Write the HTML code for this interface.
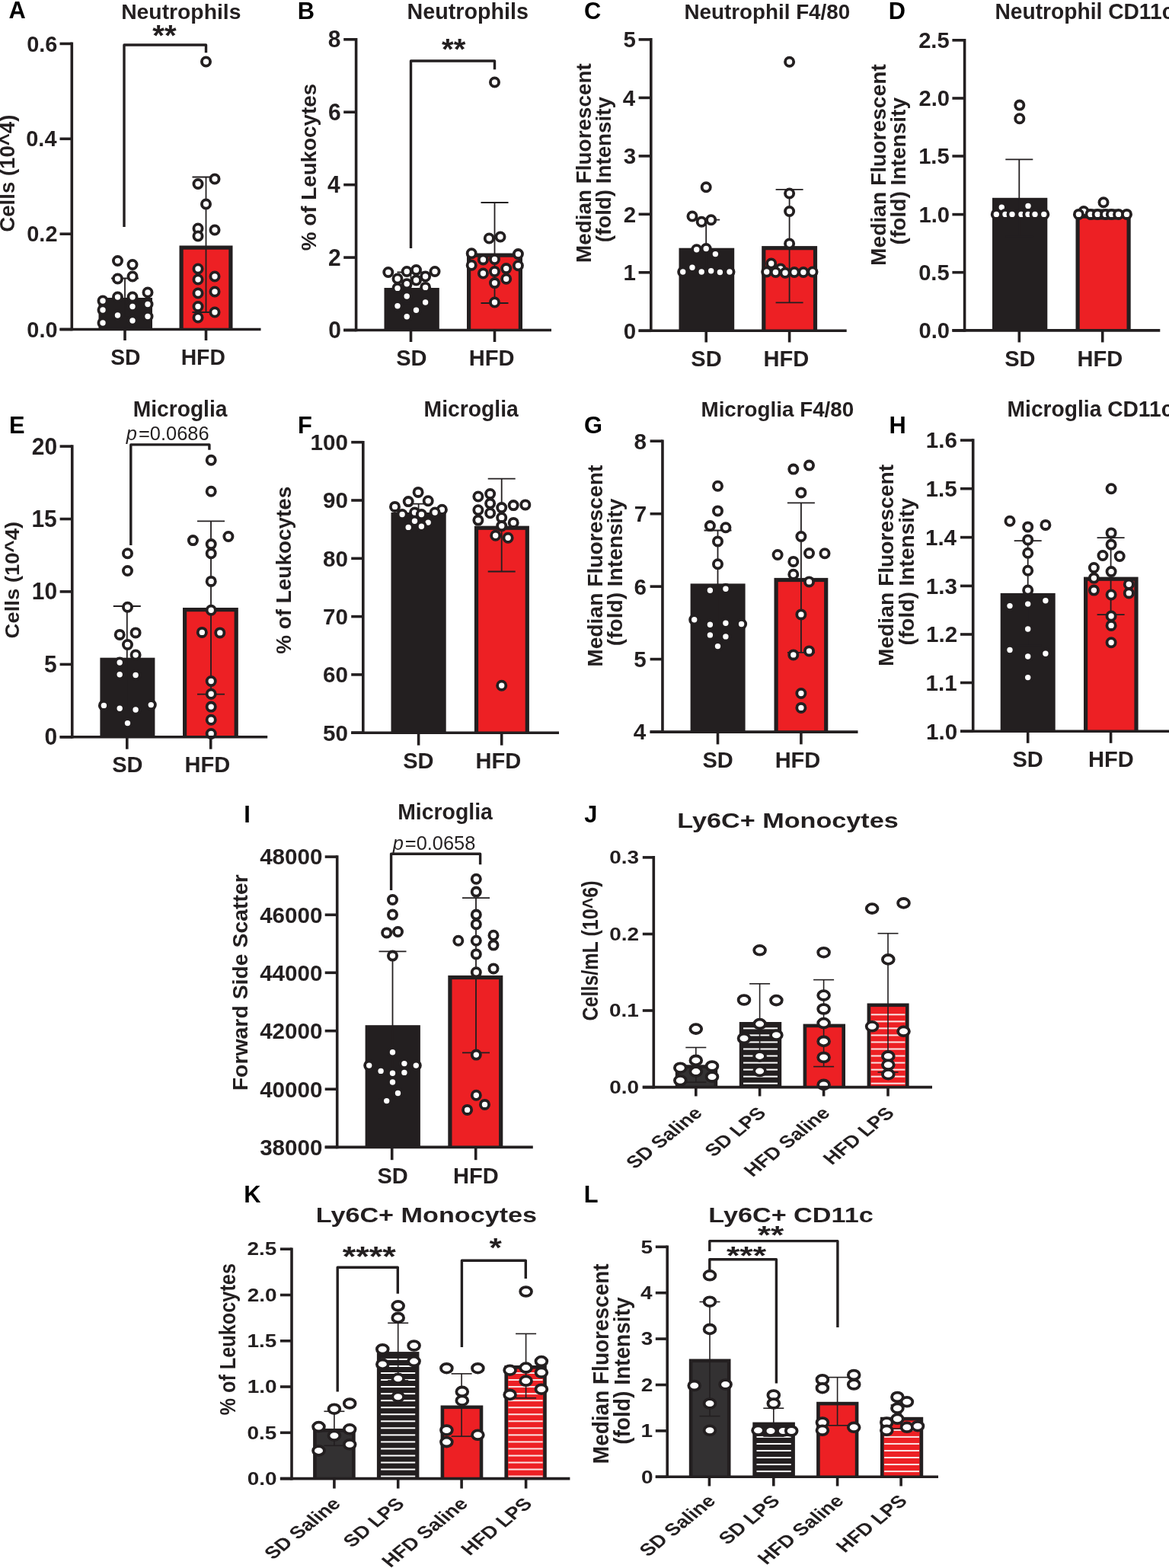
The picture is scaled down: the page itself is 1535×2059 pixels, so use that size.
<!DOCTYPE html>
<html><head><meta charset="utf-8"><title>Figure</title>
<style>html,body{margin:0;padding:0;background:#fff;} svg{display:block;filter:blur(0.45px);}</style>
</head><body>
<svg width="1535" height="2059" viewBox="0 0 1535 2059">
<rect width="1535" height="2059" fill="#fff"/>
<g font-family="'Liberation Sans', sans-serif" fill="#231f20">
<rect x="129.50" y="391.00" width="70.50" height="41.50" fill="#231f20"/>
<rect x="235.50" y="322.50" width="70.00" height="110.00" fill="#231f20"/>
<rect x="240.70" y="327.70" width="59.60" height="104.80" fill="#ed2024"/>
<line x1="164.00" y1="365.50" x2="164.00" y2="416.50" stroke="#231f20" stroke-width="1.8" stroke-linecap="butt"/>
<line x1="146.00" y1="365.50" x2="182.00" y2="365.50" stroke="#231f20" stroke-width="1.8" stroke-linecap="butt"/>
<line x1="146.00" y1="416.50" x2="182.00" y2="416.50" stroke="#231f20" stroke-width="1.8" stroke-linecap="butt"/>
<line x1="270.50" y1="232.50" x2="270.50" y2="410.00" stroke="#231f20" stroke-width="1.8" stroke-linecap="butt"/>
<line x1="252.50" y1="232.50" x2="288.50" y2="232.50" stroke="#231f20" stroke-width="1.8" stroke-linecap="butt"/>
<line x1="252.50" y1="410.00" x2="288.50" y2="410.00" stroke="#231f20" stroke-width="1.8" stroke-linecap="butt"/>
<circle cx="154.50" cy="342.50" r="5.6" fill="#fff" stroke="#231f20" stroke-width="3.8"/>
<circle cx="174.00" cy="347.50" r="5.6" fill="#fff" stroke="#231f20" stroke-width="3.8"/>
<circle cx="154.50" cy="366.00" r="5.6" fill="#fff" stroke="#231f20" stroke-width="3.8"/>
<circle cx="174.00" cy="363.00" r="5.6" fill="#fff" stroke="#231f20" stroke-width="3.8"/>
<circle cx="194.00" cy="384.00" r="5.6" fill="#fff" stroke="#231f20" stroke-width="3.8"/>
<circle cx="135.00" cy="395.00" r="5.6" fill="#fff" stroke="#231f20" stroke-width="3.8"/>
<circle cx="154.50" cy="390.00" r="5.6" fill="#fff" stroke="#231f20" stroke-width="3.8"/>
<circle cx="174.00" cy="390.00" r="5.6" fill="#fff" stroke="#231f20" stroke-width="3.8"/>
<circle cx="135.00" cy="407.00" r="5.6" fill="#fff" stroke="#231f20" stroke-width="3.8"/>
<circle cx="174.00" cy="402.50" r="5.6" fill="#fff" stroke="#231f20" stroke-width="3.8"/>
<circle cx="194.00" cy="399.50" r="5.6" fill="#fff" stroke="#231f20" stroke-width="3.8"/>
<circle cx="154.50" cy="414.00" r="5.6" fill="#fff" stroke="#231f20" stroke-width="3.8"/>
<circle cx="194.00" cy="415.50" r="5.6" fill="#fff" stroke="#231f20" stroke-width="3.8"/>
<circle cx="174.00" cy="421.00" r="5.6" fill="#fff" stroke="#231f20" stroke-width="3.8"/>
<circle cx="135.00" cy="424.00" r="5.6" fill="#fff" stroke="#231f20" stroke-width="3.8"/>
<circle cx="270.50" cy="81.00" r="5.6" fill="#fff" stroke="#231f20" stroke-width="3.8"/>
<circle cx="282.00" cy="235.00" r="5.6" fill="#fff" stroke="#231f20" stroke-width="3.8"/>
<circle cx="260.00" cy="241.50" r="5.6" fill="#fff" stroke="#231f20" stroke-width="3.8"/>
<circle cx="270.50" cy="268.00" r="5.6" fill="#fff" stroke="#231f20" stroke-width="3.8"/>
<circle cx="260.00" cy="300.00" r="5.6" fill="#fff" stroke="#231f20" stroke-width="3.8"/>
<circle cx="282.00" cy="302.00" r="5.6" fill="#fff" stroke="#231f20" stroke-width="3.8"/>
<circle cx="260.00" cy="310.00" r="5.6" fill="#fff" stroke="#231f20" stroke-width="3.8"/>
<circle cx="260.00" cy="353.00" r="5.6" fill="#fff" stroke="#231f20" stroke-width="3.8"/>
<circle cx="260.00" cy="367.00" r="5.6" fill="#fff" stroke="#231f20" stroke-width="3.8"/>
<circle cx="282.00" cy="363.00" r="5.6" fill="#fff" stroke="#231f20" stroke-width="3.8"/>
<circle cx="260.00" cy="385.00" r="5.6" fill="#fff" stroke="#231f20" stroke-width="3.8"/>
<circle cx="282.00" cy="383.00" r="5.6" fill="#fff" stroke="#231f20" stroke-width="3.8"/>
<circle cx="260.00" cy="402.50" r="5.6" fill="#fff" stroke="#231f20" stroke-width="3.8"/>
<circle cx="282.00" cy="410.00" r="5.6" fill="#fff" stroke="#231f20" stroke-width="3.8"/>
<circle cx="260.00" cy="417.00" r="5.6" fill="#fff" stroke="#231f20" stroke-width="3.8"/>
<line x1="94.30" y1="55.60" x2="94.30" y2="434.30" stroke="#231f20" stroke-width="3.6" stroke-linecap="butt"/>
<line x1="78.50" y1="57.40" x2="94.30" y2="57.40" stroke="#231f20" stroke-width="3.6" stroke-linecap="butt"/>
<line x1="78.50" y1="182.30" x2="94.30" y2="182.30" stroke="#231f20" stroke-width="3.6" stroke-linecap="butt"/>
<line x1="78.50" y1="307.20" x2="94.30" y2="307.20" stroke="#231f20" stroke-width="3.6" stroke-linecap="butt"/>
<line x1="78.50" y1="432.50" x2="94.30" y2="432.50" stroke="#231f20" stroke-width="3.6" stroke-linecap="butt"/>
<line x1="78.50" y1="432.50" x2="342.50" y2="432.50" stroke="#231f20" stroke-width="3.6" stroke-linecap="butt"/>
<line x1="164.00" y1="432.50" x2="164.00" y2="447.00" stroke="#231f20" stroke-width="3.6" stroke-linecap="butt"/>
<line x1="270.50" y1="432.50" x2="270.50" y2="447.00" stroke="#231f20" stroke-width="3.6" stroke-linecap="butt"/>
<polyline points="163.00,298.00 163.00,59.00 270.50,59.00 270.50,69.30" fill="none" stroke="#231f20" stroke-width="3.4" stroke-linejoin="round"/>
<text transform="translate(75.34,67.54) scale(1.000,1.020)" font-size="28.9" font-weight="bold" text-anchor="end"  >0.6</text>
<text transform="translate(74.45,192.44) scale(1.000,1.020)" font-size="28.9" font-weight="bold" text-anchor="end"  >0.4</text>
<text transform="translate(75.46,317.34) scale(1.000,1.020)" font-size="28.9" font-weight="bold" text-anchor="end"  >0.2</text>
<text transform="translate(75.49,442.64) scale(1.000,1.020)" font-size="28.9" font-weight="bold" text-anchor="end"  >0.0</text>
<rect x="504.50" y="378.00" width="72.30" height="55.50" fill="#231f20"/>
<rect x="613.00" y="332.50" width="73.00" height="101.00" fill="#231f20"/>
<rect x="618.20" y="337.70" width="62.60" height="95.80" fill="#ed2024"/>
<line x1="539.50" y1="357.50" x2="539.50" y2="398.50" stroke="#231f20" stroke-width="1.8" stroke-linecap="butt"/>
<line x1="521.50" y1="357.50" x2="557.50" y2="357.50" stroke="#231f20" stroke-width="1.8" stroke-linecap="butt"/>
<line x1="521.50" y1="398.50" x2="557.50" y2="398.50" stroke="#231f20" stroke-width="1.8" stroke-linecap="butt"/>
<line x1="649.50" y1="266.00" x2="649.50" y2="398.00" stroke="#231f20" stroke-width="1.8" stroke-linecap="butt"/>
<line x1="631.50" y1="266.00" x2="667.50" y2="266.00" stroke="#231f20" stroke-width="1.8" stroke-linecap="butt"/>
<line x1="631.50" y1="398.00" x2="667.50" y2="398.00" stroke="#231f20" stroke-width="1.8" stroke-linecap="butt"/>
<circle cx="509.80" cy="357.50" r="5.6" fill="#fff" stroke="#231f20" stroke-width="3.8"/>
<circle cx="522.00" cy="366.00" r="5.6" fill="#fff" stroke="#231f20" stroke-width="3.8"/>
<circle cx="534.20" cy="356.50" r="5.6" fill="#fff" stroke="#231f20" stroke-width="3.8"/>
<circle cx="546.50" cy="354.50" r="5.6" fill="#fff" stroke="#231f20" stroke-width="3.8"/>
<circle cx="558.60" cy="363.00" r="5.6" fill="#fff" stroke="#231f20" stroke-width="3.8"/>
<circle cx="571.00" cy="356.50" r="5.6" fill="#fff" stroke="#231f20" stroke-width="3.8"/>
<circle cx="546.50" cy="368.00" r="5.6" fill="#fff" stroke="#231f20" stroke-width="3.8"/>
<circle cx="534.20" cy="372.70" r="5.6" fill="#fff" stroke="#231f20" stroke-width="3.8"/>
<circle cx="522.00" cy="378.40" r="5.6" fill="#fff" stroke="#231f20" stroke-width="3.8"/>
<circle cx="558.60" cy="377.40" r="5.6" fill="#fff" stroke="#231f20" stroke-width="3.8"/>
<circle cx="534.20" cy="389.00" r="5.6" fill="#fff" stroke="#231f20" stroke-width="3.8"/>
<circle cx="522.00" cy="401.80" r="5.6" fill="#fff" stroke="#231f20" stroke-width="3.8"/>
<circle cx="558.60" cy="397.00" r="5.6" fill="#fff" stroke="#231f20" stroke-width="3.8"/>
<circle cx="546.50" cy="407.30" r="5.6" fill="#fff" stroke="#231f20" stroke-width="3.8"/>
<circle cx="534.20" cy="415.70" r="5.6" fill="#fff" stroke="#231f20" stroke-width="3.8"/>
<circle cx="649.50" cy="108.00" r="5.6" fill="#fff" stroke="#231f20" stroke-width="3.8"/>
<circle cx="642.30" cy="313.00" r="5.6" fill="#fff" stroke="#231f20" stroke-width="3.8"/>
<circle cx="657.00" cy="311.00" r="5.6" fill="#fff" stroke="#231f20" stroke-width="3.8"/>
<circle cx="619.20" cy="332.70" r="5.6" fill="#fff" stroke="#231f20" stroke-width="3.8"/>
<circle cx="680.40" cy="333.60" r="5.6" fill="#fff" stroke="#231f20" stroke-width="3.8"/>
<circle cx="634.40" cy="340.90" r="5.6" fill="#fff" stroke="#231f20" stroke-width="3.8"/>
<circle cx="649.50" cy="340.50" r="5.6" fill="#fff" stroke="#231f20" stroke-width="3.8"/>
<circle cx="619.20" cy="348.30" r="5.6" fill="#fff" stroke="#231f20" stroke-width="3.8"/>
<circle cx="680.40" cy="348.70" r="5.6" fill="#fff" stroke="#231f20" stroke-width="3.8"/>
<circle cx="664.70" cy="352.60" r="5.6" fill="#fff" stroke="#231f20" stroke-width="3.8"/>
<circle cx="649.50" cy="356.50" r="5.6" fill="#fff" stroke="#231f20" stroke-width="3.8"/>
<circle cx="634.40" cy="359.00" r="5.6" fill="#fff" stroke="#231f20" stroke-width="3.8"/>
<circle cx="664.70" cy="366.30" r="5.6" fill="#fff" stroke="#231f20" stroke-width="3.8"/>
<circle cx="649.50" cy="371.60" r="5.6" fill="#fff" stroke="#231f20" stroke-width="3.8"/>
<circle cx="649.50" cy="397.00" r="5.6" fill="#fff" stroke="#231f20" stroke-width="3.8"/>
<line x1="467.60" y1="50.00" x2="467.60" y2="435.30" stroke="#231f20" stroke-width="3.6" stroke-linecap="butt"/>
<line x1="451.20" y1="51.80" x2="467.60" y2="51.80" stroke="#231f20" stroke-width="3.6" stroke-linecap="butt"/>
<line x1="451.20" y1="147.20" x2="467.60" y2="147.20" stroke="#231f20" stroke-width="3.6" stroke-linecap="butt"/>
<line x1="451.20" y1="242.65" x2="467.60" y2="242.65" stroke="#231f20" stroke-width="3.6" stroke-linecap="butt"/>
<line x1="451.20" y1="338.10" x2="467.60" y2="338.10" stroke="#231f20" stroke-width="3.6" stroke-linecap="butt"/>
<line x1="451.20" y1="433.50" x2="467.60" y2="433.50" stroke="#231f20" stroke-width="3.6" stroke-linecap="butt"/>
<line x1="451.20" y1="433.50" x2="724.00" y2="433.50" stroke="#231f20" stroke-width="3.6" stroke-linecap="butt"/>
<line x1="539.50" y1="433.50" x2="539.50" y2="449.00" stroke="#231f20" stroke-width="3.6" stroke-linecap="butt"/>
<line x1="649.50" y1="433.50" x2="649.50" y2="449.00" stroke="#231f20" stroke-width="3.6" stroke-linecap="butt"/>
<polyline points="539.50,326.00 539.50,80.00 649.50,80.00 649.50,91.30" fill="none" stroke="#231f20" stroke-width="3.4" stroke-linejoin="round"/>
<text transform="translate(447.53,62.33) scale(1.000,1.020)" font-size="30" font-weight="bold" text-anchor="end"  >8</text>
<text transform="translate(447.68,157.73) scale(1.000,1.020)" font-size="30" font-weight="bold" text-anchor="end"  >6</text>
<text transform="translate(446.75,253.18) scale(1.000,1.020)" font-size="30" font-weight="bold" text-anchor="end"  >4</text>
<text transform="translate(447.80,348.63) scale(1.000,1.020)" font-size="30" font-weight="bold" text-anchor="end"  >2</text>
<text transform="translate(447.83,444.03) scale(1.000,1.020)" font-size="30" font-weight="bold" text-anchor="end"  >0</text>
<rect x="891.50" y="325.70" width="72.70" height="108.60" fill="#231f20"/>
<rect x="1000.20" y="323.10" width="72.90" height="111.20" fill="#231f20"/>
<rect x="1005.40" y="328.30" width="62.50" height="106.00" fill="#ed2024"/>
<line x1="927.20" y1="288.70" x2="927.20" y2="362.70" stroke="#231f20" stroke-width="1.8" stroke-linecap="butt"/>
<line x1="909.20" y1="288.70" x2="945.20" y2="288.70" stroke="#231f20" stroke-width="1.8" stroke-linecap="butt"/>
<line x1="909.20" y1="362.70" x2="945.20" y2="362.70" stroke="#231f20" stroke-width="1.8" stroke-linecap="butt"/>
<line x1="1036.60" y1="248.90" x2="1036.60" y2="397.40" stroke="#231f20" stroke-width="1.8" stroke-linecap="butt"/>
<line x1="1018.60" y1="248.90" x2="1054.60" y2="248.90" stroke="#231f20" stroke-width="1.8" stroke-linecap="butt"/>
<line x1="1018.60" y1="397.40" x2="1054.60" y2="397.40" stroke="#231f20" stroke-width="1.8" stroke-linecap="butt"/>
<circle cx="927.20" cy="245.70" r="5.6" fill="#fff" stroke="#231f20" stroke-width="3.8"/>
<circle cx="909.00" cy="284.00" r="5.6" fill="#fff" stroke="#231f20" stroke-width="3.8"/>
<circle cx="921.20" cy="291.30" r="5.6" fill="#fff" stroke="#231f20" stroke-width="3.8"/>
<circle cx="933.70" cy="288.70" r="5.6" fill="#fff" stroke="#231f20" stroke-width="3.8"/>
<circle cx="914.70" cy="327.80" r="5.6" fill="#fff" stroke="#231f20" stroke-width="3.8"/>
<circle cx="927.20" cy="326.50" r="5.6" fill="#fff" stroke="#231f20" stroke-width="3.8"/>
<circle cx="939.40" cy="333.60" r="5.6" fill="#fff" stroke="#231f20" stroke-width="3.8"/>
<circle cx="909.00" cy="351.30" r="5.6" fill="#fff" stroke="#231f20" stroke-width="3.8"/>
<circle cx="896.70" cy="357.00" r="5.6" fill="#fff" stroke="#231f20" stroke-width="3.8"/>
<circle cx="921.20" cy="357.00" r="5.6" fill="#fff" stroke="#231f20" stroke-width="3.8"/>
<circle cx="933.70" cy="355.70" r="5.6" fill="#fff" stroke="#231f20" stroke-width="3.8"/>
<circle cx="945.40" cy="357.50" r="5.6" fill="#fff" stroke="#231f20" stroke-width="3.8"/>
<circle cx="958.00" cy="357.00" r="5.6" fill="#fff" stroke="#231f20" stroke-width="3.8"/>
<circle cx="1036.60" cy="81.30" r="5.6" fill="#fff" stroke="#231f20" stroke-width="3.8"/>
<circle cx="1036.60" cy="254.00" r="5.6" fill="#fff" stroke="#231f20" stroke-width="3.8"/>
<circle cx="1036.60" cy="277.50" r="5.6" fill="#fff" stroke="#231f20" stroke-width="3.8"/>
<circle cx="1036.60" cy="320.00" r="5.6" fill="#fff" stroke="#231f20" stroke-width="3.8"/>
<circle cx="1012.70" cy="346.00" r="5.6" fill="#fff" stroke="#231f20" stroke-width="3.8"/>
<circle cx="1025.00" cy="353.00" r="5.6" fill="#fff" stroke="#231f20" stroke-width="3.8"/>
<circle cx="1006.70" cy="357.00" r="5.6" fill="#fff" stroke="#231f20" stroke-width="3.8"/>
<circle cx="1018.40" cy="357.50" r="5.6" fill="#fff" stroke="#231f20" stroke-width="3.8"/>
<circle cx="1031.00" cy="358.30" r="5.6" fill="#fff" stroke="#231f20" stroke-width="3.8"/>
<circle cx="1043.00" cy="357.50" r="5.6" fill="#fff" stroke="#231f20" stroke-width="3.8"/>
<circle cx="1054.90" cy="357.50" r="5.6" fill="#fff" stroke="#231f20" stroke-width="3.8"/>
<circle cx="1067.00" cy="357.00" r="5.6" fill="#fff" stroke="#231f20" stroke-width="3.8"/>
<line x1="854.80" y1="50.10" x2="854.80" y2="436.10" stroke="#231f20" stroke-width="3.6" stroke-linecap="butt"/>
<line x1="838.60" y1="51.90" x2="854.80" y2="51.90" stroke="#231f20" stroke-width="3.6" stroke-linecap="butt"/>
<line x1="838.60" y1="128.40" x2="854.80" y2="128.40" stroke="#231f20" stroke-width="3.6" stroke-linecap="butt"/>
<line x1="838.60" y1="204.90" x2="854.80" y2="204.90" stroke="#231f20" stroke-width="3.6" stroke-linecap="butt"/>
<line x1="838.60" y1="281.30" x2="854.80" y2="281.30" stroke="#231f20" stroke-width="3.6" stroke-linecap="butt"/>
<line x1="838.60" y1="357.80" x2="854.80" y2="357.80" stroke="#231f20" stroke-width="3.6" stroke-linecap="butt"/>
<line x1="838.60" y1="434.30" x2="854.80" y2="434.30" stroke="#231f20" stroke-width="3.6" stroke-linecap="butt"/>
<line x1="838.60" y1="434.30" x2="1111.70" y2="434.30" stroke="#231f20" stroke-width="3.6" stroke-linecap="butt"/>
<line x1="927.20" y1="434.30" x2="927.20" y2="449.50" stroke="#231f20" stroke-width="3.6" stroke-linecap="butt"/>
<line x1="1036.60" y1="434.30" x2="1036.60" y2="449.50" stroke="#231f20" stroke-width="3.6" stroke-linecap="butt"/>
<text transform="translate(834.83,62.25) scale(1.000,1.020)" font-size="29.5" font-weight="bold" text-anchor="end"  >5</text>
<text transform="translate(834.15,138.75) scale(1.000,1.020)" font-size="29.5" font-weight="bold" text-anchor="end"  >4</text>
<text transform="translate(835.07,215.25) scale(1.000,1.020)" font-size="29.5" font-weight="bold" text-anchor="end"  >3</text>
<text transform="translate(835.18,291.65) scale(1.000,1.020)" font-size="29.5" font-weight="bold" text-anchor="end"  >2</text>
<text transform="translate(834.83,368.15) scale(1.000,1.020)" font-size="29.5" font-weight="bold" text-anchor="end"  >1</text>
<text transform="translate(835.21,444.65) scale(1.000,1.020)" font-size="29.5" font-weight="bold" text-anchor="end"  >0</text>
<rect x="1303.00" y="259.80" width="72.30" height="174.10" fill="#231f20"/>
<rect x="1412.50" y="281.50" width="72.20" height="152.40" fill="#231f20"/>
<rect x="1417.70" y="286.70" width="61.80" height="147.20" fill="#ed2024"/>
<line x1="1338.30" y1="209.30" x2="1338.30" y2="310.30" stroke="#231f20" stroke-width="1.8" stroke-linecap="butt"/>
<line x1="1320.30" y1="209.30" x2="1356.30" y2="209.30" stroke="#231f20" stroke-width="1.8" stroke-linecap="butt"/>
<line x1="1320.30" y1="310.30" x2="1356.30" y2="310.30" stroke="#231f20" stroke-width="1.8" stroke-linecap="butt"/>
<line x1="1447.70" y1="275.40" x2="1447.70" y2="287.60" stroke="#231f20" stroke-width="1.8" stroke-linecap="butt"/>
<line x1="1429.70" y1="275.40" x2="1465.70" y2="275.40" stroke="#231f20" stroke-width="1.8" stroke-linecap="butt"/>
<line x1="1429.70" y1="287.60" x2="1465.70" y2="287.60" stroke="#231f20" stroke-width="1.8" stroke-linecap="butt"/>
<circle cx="1338.80" cy="138.10" r="5.6" fill="#fff" stroke="#231f20" stroke-width="3.8"/>
<circle cx="1338.80" cy="155.80" r="5.6" fill="#fff" stroke="#231f20" stroke-width="3.8"/>
<circle cx="1315.30" cy="272.30" r="5.6" fill="#fff" stroke="#231f20" stroke-width="3.8"/>
<circle cx="1350.00" cy="270.50" r="5.6" fill="#fff" stroke="#231f20" stroke-width="3.8"/>
<circle cx="1308.30" cy="281.40" r="5.6" fill="#fff" stroke="#231f20" stroke-width="3.8"/>
<circle cx="1320.00" cy="281.40" r="5.6" fill="#fff" stroke="#231f20" stroke-width="3.8"/>
<circle cx="1329.00" cy="281.40" r="5.6" fill="#fff" stroke="#231f20" stroke-width="3.8"/>
<circle cx="1341.00" cy="281.40" r="5.6" fill="#fff" stroke="#231f20" stroke-width="3.8"/>
<circle cx="1350.00" cy="281.40" r="5.6" fill="#fff" stroke="#231f20" stroke-width="3.8"/>
<circle cx="1359.00" cy="281.40" r="5.6" fill="#fff" stroke="#231f20" stroke-width="3.8"/>
<circle cx="1370.80" cy="281.40" r="5.6" fill="#fff" stroke="#231f20" stroke-width="3.8"/>
<circle cx="1449.00" cy="265.80" r="5.6" fill="#fff" stroke="#231f20" stroke-width="3.8"/>
<circle cx="1423.00" cy="277.50" r="5.6" fill="#fff" stroke="#231f20" stroke-width="3.8"/>
<circle cx="1416.40" cy="281.40" r="5.6" fill="#fff" stroke="#231f20" stroke-width="3.8"/>
<circle cx="1432.00" cy="281.40" r="5.6" fill="#fff" stroke="#231f20" stroke-width="3.8"/>
<circle cx="1441.20" cy="281.40" r="5.6" fill="#fff" stroke="#231f20" stroke-width="3.8"/>
<circle cx="1451.60" cy="281.40" r="5.6" fill="#fff" stroke="#231f20" stroke-width="3.8"/>
<circle cx="1459.40" cy="281.40" r="5.6" fill="#fff" stroke="#231f20" stroke-width="3.8"/>
<circle cx="1468.60" cy="281.40" r="5.6" fill="#fff" stroke="#231f20" stroke-width="3.8"/>
<circle cx="1479.50" cy="281.40" r="5.6" fill="#fff" stroke="#231f20" stroke-width="3.8"/>
<line x1="1266.60" y1="51.00" x2="1266.60" y2="435.70" stroke="#231f20" stroke-width="3.6" stroke-linecap="butt"/>
<line x1="1250.40" y1="52.80" x2="1266.60" y2="52.80" stroke="#231f20" stroke-width="3.6" stroke-linecap="butt"/>
<line x1="1250.40" y1="129.00" x2="1266.60" y2="129.00" stroke="#231f20" stroke-width="3.6" stroke-linecap="butt"/>
<line x1="1250.40" y1="205.00" x2="1266.60" y2="205.00" stroke="#231f20" stroke-width="3.6" stroke-linecap="butt"/>
<line x1="1250.40" y1="281.60" x2="1266.60" y2="281.60" stroke="#231f20" stroke-width="3.6" stroke-linecap="butt"/>
<line x1="1250.40" y1="357.70" x2="1266.60" y2="357.70" stroke="#231f20" stroke-width="3.6" stroke-linecap="butt"/>
<line x1="1250.40" y1="433.90" x2="1266.60" y2="433.90" stroke="#231f20" stroke-width="3.6" stroke-linecap="butt"/>
<line x1="1250.40" y1="433.90" x2="1523.30" y2="433.90" stroke="#231f20" stroke-width="3.6" stroke-linecap="butt"/>
<line x1="1338.30" y1="433.90" x2="1338.30" y2="449.50" stroke="#231f20" stroke-width="3.6" stroke-linecap="butt"/>
<line x1="1447.70" y1="433.90" x2="1447.70" y2="449.50" stroke="#231f20" stroke-width="3.6" stroke-linecap="butt"/>
<text transform="translate(1246.72,63.05) scale(1.000,1.020)" font-size="29.2" font-weight="bold" text-anchor="end"  >2.5</text>
<text transform="translate(1247.10,139.25) scale(1.000,1.020)" font-size="29.2" font-weight="bold" text-anchor="end"  >2.0</text>
<text transform="translate(1246.72,215.25) scale(1.000,1.020)" font-size="29.2" font-weight="bold" text-anchor="end"  >1.5</text>
<text transform="translate(1247.10,291.85) scale(1.000,1.020)" font-size="29.2" font-weight="bold" text-anchor="end"  >1.0</text>
<text transform="translate(1246.72,367.95) scale(1.000,1.020)" font-size="29.2" font-weight="bold" text-anchor="end"  >0.5</text>
<text transform="translate(1247.10,444.15) scale(1.000,1.020)" font-size="29.2" font-weight="bold" text-anchor="end"  >0.0</text>
<rect x="131.40" y="863.70" width="72.00" height="104.10" fill="#231f20"/>
<rect x="240.00" y="798.00" width="72.80" height="169.80" fill="#231f20"/>
<rect x="245.20" y="803.20" width="62.40" height="164.60" fill="#ed2024"/>
<line x1="166.80" y1="796.00" x2="166.80" y2="931.40" stroke="#231f20" stroke-width="1.8" stroke-linecap="butt"/>
<line x1="148.80" y1="796.00" x2="184.80" y2="796.00" stroke="#231f20" stroke-width="1.8" stroke-linecap="butt"/>
<line x1="148.80" y1="931.40" x2="184.80" y2="931.40" stroke="#231f20" stroke-width="1.8" stroke-linecap="butt"/>
<line x1="277.00" y1="684.30" x2="277.00" y2="911.70" stroke="#231f20" stroke-width="1.8" stroke-linecap="butt"/>
<line x1="259.00" y1="684.30" x2="295.00" y2="684.30" stroke="#231f20" stroke-width="1.8" stroke-linecap="butt"/>
<line x1="259.00" y1="911.70" x2="295.00" y2="911.70" stroke="#231f20" stroke-width="1.8" stroke-linecap="butt"/>
<circle cx="167.50" cy="726.80" r="5.6" fill="#fff" stroke="#231f20" stroke-width="3.8"/>
<circle cx="167.50" cy="749.50" r="5.6" fill="#fff" stroke="#231f20" stroke-width="3.8"/>
<circle cx="167.50" cy="797.30" r="5.6" fill="#fff" stroke="#231f20" stroke-width="3.8"/>
<circle cx="157.20" cy="833.40" r="5.6" fill="#fff" stroke="#231f20" stroke-width="3.8"/>
<circle cx="178.10" cy="830.90" r="5.6" fill="#fff" stroke="#231f20" stroke-width="3.8"/>
<circle cx="167.50" cy="846.50" r="5.6" fill="#fff" stroke="#231f20" stroke-width="3.8"/>
<circle cx="178.10" cy="860.00" r="5.6" fill="#fff" stroke="#231f20" stroke-width="3.8"/>
<circle cx="157.20" cy="870.00" r="5.6" fill="#fff" stroke="#231f20" stroke-width="3.8"/>
<circle cx="157.20" cy="885.70" r="5.6" fill="#fff" stroke="#231f20" stroke-width="3.8"/>
<circle cx="178.10" cy="886.50" r="5.6" fill="#fff" stroke="#231f20" stroke-width="3.8"/>
<circle cx="136.40" cy="926.40" r="5.6" fill="#fff" stroke="#231f20" stroke-width="3.8"/>
<circle cx="198.30" cy="925.60" r="5.6" fill="#fff" stroke="#231f20" stroke-width="3.8"/>
<circle cx="157.20" cy="930.20" r="5.6" fill="#fff" stroke="#231f20" stroke-width="3.8"/>
<circle cx="178.10" cy="932.00" r="5.6" fill="#fff" stroke="#231f20" stroke-width="3.8"/>
<circle cx="167.50" cy="949.60" r="5.6" fill="#fff" stroke="#231f20" stroke-width="3.8"/>
<circle cx="277.20" cy="604.20" r="5.6" fill="#fff" stroke="#231f20" stroke-width="3.8"/>
<circle cx="277.20" cy="645.20" r="5.6" fill="#fff" stroke="#231f20" stroke-width="3.8"/>
<circle cx="253.40" cy="709.60" r="5.6" fill="#fff" stroke="#231f20" stroke-width="3.8"/>
<circle cx="299.90" cy="704.50" r="5.6" fill="#fff" stroke="#231f20" stroke-width="3.8"/>
<circle cx="277.20" cy="714.60" r="5.6" fill="#fff" stroke="#231f20" stroke-width="3.8"/>
<circle cx="277.20" cy="726.80" r="5.6" fill="#fff" stroke="#231f20" stroke-width="3.8"/>
<circle cx="277.20" cy="763.40" r="5.6" fill="#fff" stroke="#231f20" stroke-width="3.8"/>
<circle cx="277.20" cy="801.30" r="5.6" fill="#fff" stroke="#231f20" stroke-width="3.8"/>
<circle cx="265.30" cy="830.40" r="5.6" fill="#fff" stroke="#231f20" stroke-width="3.8"/>
<circle cx="288.80" cy="830.90" r="5.6" fill="#fff" stroke="#231f20" stroke-width="3.8"/>
<circle cx="277.20" cy="894.50" r="5.6" fill="#fff" stroke="#231f20" stroke-width="3.8"/>
<circle cx="277.20" cy="911.20" r="5.6" fill="#fff" stroke="#231f20" stroke-width="3.8"/>
<circle cx="277.20" cy="928.10" r="5.6" fill="#fff" stroke="#231f20" stroke-width="3.8"/>
<circle cx="277.20" cy="945.30" r="5.6" fill="#fff" stroke="#231f20" stroke-width="3.8"/>
<circle cx="277.20" cy="963.50" r="5.6" fill="#fff" stroke="#231f20" stroke-width="3.8"/>
<line x1="94.75" y1="584.30" x2="94.75" y2="969.60" stroke="#231f20" stroke-width="3.6" stroke-linecap="butt"/>
<line x1="78.60" y1="586.10" x2="94.75" y2="586.10" stroke="#231f20" stroke-width="3.6" stroke-linecap="butt"/>
<line x1="78.60" y1="681.50" x2="94.75" y2="681.50" stroke="#231f20" stroke-width="3.6" stroke-linecap="butt"/>
<line x1="78.60" y1="776.90" x2="94.75" y2="776.90" stroke="#231f20" stroke-width="3.6" stroke-linecap="butt"/>
<line x1="78.60" y1="872.40" x2="94.75" y2="872.40" stroke="#231f20" stroke-width="3.6" stroke-linecap="butt"/>
<line x1="78.60" y1="967.80" x2="94.75" y2="967.80" stroke="#231f20" stroke-width="3.6" stroke-linecap="butt"/>
<line x1="78.60" y1="967.80" x2="351.20" y2="967.80" stroke="#231f20" stroke-width="3.6" stroke-linecap="butt"/>
<line x1="166.80" y1="967.80" x2="166.80" y2="983.70" stroke="#231f20" stroke-width="3.6" stroke-linecap="butt"/>
<line x1="276.70" y1="967.80" x2="276.70" y2="983.70" stroke="#231f20" stroke-width="3.6" stroke-linecap="butt"/>
<polyline points="171.80,716.00 171.80,583.90 274.90,583.90 274.90,590.80" fill="none" stroke="#231f20" stroke-width="3.4" stroke-linejoin="round"/>
<text transform="translate(75.14,596.63) scale(1.000,1.020)" font-size="30" font-weight="bold" text-anchor="end"  >20</text>
<text transform="translate(74.75,692.03) scale(1.000,1.020)" font-size="30" font-weight="bold" text-anchor="end"  >15</text>
<text transform="translate(75.14,787.43) scale(1.000,1.020)" font-size="30" font-weight="bold" text-anchor="end"  >10</text>
<text transform="translate(74.74,882.93) scale(1.000,1.020)" font-size="30" font-weight="bold" text-anchor="end"  >5</text>
<text transform="translate(75.13,978.33) scale(1.000,1.020)" font-size="30" font-weight="bold" text-anchor="end"  >0</text>
<rect x="513.50" y="673.00" width="72.20" height="289.20" fill="#231f20"/>
<rect x="622.90" y="690.60" width="72.00" height="271.60" fill="#231f20"/>
<rect x="628.10" y="695.80" width="61.60" height="266.40" fill="#ed2024"/>
<line x1="549.60" y1="661.60" x2="549.60" y2="684.40" stroke="#231f20" stroke-width="1.8" stroke-linecap="butt"/>
<line x1="531.60" y1="661.60" x2="567.60" y2="661.60" stroke="#231f20" stroke-width="1.8" stroke-linecap="butt"/>
<line x1="531.60" y1="684.40" x2="567.60" y2="684.40" stroke="#231f20" stroke-width="1.8" stroke-linecap="butt"/>
<line x1="658.70" y1="628.70" x2="658.70" y2="750.50" stroke="#231f20" stroke-width="1.8" stroke-linecap="butt"/>
<line x1="640.70" y1="628.70" x2="676.70" y2="628.70" stroke="#231f20" stroke-width="1.8" stroke-linecap="butt"/>
<line x1="640.70" y1="750.50" x2="676.70" y2="750.50" stroke="#231f20" stroke-width="1.8" stroke-linecap="butt"/>
<circle cx="549.10" cy="646.40" r="5.6" fill="#fff" stroke="#231f20" stroke-width="3.8"/>
<circle cx="536.20" cy="658.60" r="5.6" fill="#fff" stroke="#231f20" stroke-width="3.8"/>
<circle cx="562.20" cy="657.80" r="5.6" fill="#fff" stroke="#231f20" stroke-width="3.8"/>
<circle cx="518.50" cy="665.40" r="5.6" fill="#fff" stroke="#231f20" stroke-width="3.8"/>
<circle cx="580.40" cy="669.20" r="5.6" fill="#fff" stroke="#231f20" stroke-width="3.8"/>
<circle cx="528.10" cy="675.50" r="5.6" fill="#fff" stroke="#231f20" stroke-width="3.8"/>
<circle cx="544.50" cy="673.00" r="5.6" fill="#fff" stroke="#231f20" stroke-width="3.8"/>
<circle cx="553.40" cy="675.50" r="5.6" fill="#fff" stroke="#231f20" stroke-width="3.8"/>
<circle cx="571.10" cy="673.00" r="5.6" fill="#fff" stroke="#231f20" stroke-width="3.8"/>
<circle cx="544.50" cy="684.30" r="5.6" fill="#fff" stroke="#231f20" stroke-width="3.8"/>
<circle cx="562.20" cy="686.10" r="5.6" fill="#fff" stroke="#231f20" stroke-width="3.8"/>
<circle cx="536.20" cy="692.40" r="5.6" fill="#fff" stroke="#231f20" stroke-width="3.8"/>
<circle cx="553.40" cy="691.20" r="5.6" fill="#fff" stroke="#231f20" stroke-width="3.8"/>
<circle cx="627.90" cy="652.00" r="5.6" fill="#fff" stroke="#231f20" stroke-width="3.8"/>
<circle cx="643.60" cy="648.50" r="5.6" fill="#fff" stroke="#231f20" stroke-width="3.8"/>
<circle cx="643.60" cy="661.10" r="5.6" fill="#fff" stroke="#231f20" stroke-width="3.8"/>
<circle cx="627.90" cy="669.70" r="5.6" fill="#fff" stroke="#231f20" stroke-width="3.8"/>
<circle cx="643.60" cy="673.70" r="5.6" fill="#fff" stroke="#231f20" stroke-width="3.8"/>
<circle cx="658.70" cy="666.60" r="5.6" fill="#fff" stroke="#231f20" stroke-width="3.8"/>
<circle cx="674.20" cy="663.60" r="5.6" fill="#fff" stroke="#231f20" stroke-width="3.8"/>
<circle cx="689.80" cy="662.90" r="5.6" fill="#fff" stroke="#231f20" stroke-width="3.8"/>
<circle cx="627.90" cy="683.10" r="5.6" fill="#fff" stroke="#231f20" stroke-width="3.8"/>
<circle cx="658.70" cy="679.80" r="5.6" fill="#fff" stroke="#231f20" stroke-width="3.8"/>
<circle cx="674.20" cy="686.40" r="5.6" fill="#fff" stroke="#231f20" stroke-width="3.8"/>
<circle cx="658.70" cy="690.60" r="5.6" fill="#fff" stroke="#231f20" stroke-width="3.8"/>
<circle cx="650.70" cy="703.30" r="5.6" fill="#fff" stroke="#231f20" stroke-width="3.8"/>
<circle cx="667.10" cy="706.30" r="5.6" fill="#fff" stroke="#231f20" stroke-width="3.8"/>
<circle cx="658.70" cy="900.30" r="5.6" fill="#fff" stroke="#231f20" stroke-width="3.8"/>
<line x1="476.80" y1="578.90" x2="476.80" y2="964.00" stroke="#231f20" stroke-width="3.6" stroke-linecap="butt"/>
<line x1="461.20" y1="580.70" x2="476.80" y2="580.70" stroke="#231f20" stroke-width="3.6" stroke-linecap="butt"/>
<line x1="461.20" y1="657.00" x2="476.80" y2="657.00" stroke="#231f20" stroke-width="3.6" stroke-linecap="butt"/>
<line x1="461.20" y1="733.30" x2="476.80" y2="733.30" stroke="#231f20" stroke-width="3.6" stroke-linecap="butt"/>
<line x1="461.20" y1="809.60" x2="476.80" y2="809.60" stroke="#231f20" stroke-width="3.6" stroke-linecap="butt"/>
<line x1="461.20" y1="885.90" x2="476.80" y2="885.90" stroke="#231f20" stroke-width="3.6" stroke-linecap="butt"/>
<line x1="461.20" y1="962.20" x2="476.80" y2="962.20" stroke="#231f20" stroke-width="3.6" stroke-linecap="butt"/>
<line x1="461.20" y1="962.20" x2="734.00" y2="962.20" stroke="#231f20" stroke-width="3.6" stroke-linecap="butt"/>
<line x1="549.60" y1="962.20" x2="549.60" y2="978.70" stroke="#231f20" stroke-width="3.6" stroke-linecap="butt"/>
<line x1="658.70" y1="962.20" x2="658.70" y2="978.70" stroke="#231f20" stroke-width="3.6" stroke-linecap="butt"/>
<text transform="translate(456.93,591.09) scale(1.000,1.020)" font-size="29.6" font-weight="bold" text-anchor="end"  >100</text>
<text transform="translate(456.92,667.39) scale(1.000,1.020)" font-size="29.6" font-weight="bold" text-anchor="end"  >90</text>
<text transform="translate(456.92,743.69) scale(1.000,1.020)" font-size="29.6" font-weight="bold" text-anchor="end"  >80</text>
<text transform="translate(456.92,819.99) scale(1.000,1.020)" font-size="29.6" font-weight="bold" text-anchor="end"  >70</text>
<text transform="translate(456.92,896.29) scale(1.000,1.020)" font-size="29.6" font-weight="bold" text-anchor="end"  >60</text>
<text transform="translate(456.92,972.59) scale(1.000,1.020)" font-size="29.6" font-weight="bold" text-anchor="end"  >50</text>
<rect x="906.60" y="766.40" width="72.00" height="194.70" fill="#231f20"/>
<rect x="1016.50" y="758.90" width="70.80" height="202.20" fill="#231f20"/>
<rect x="1021.70" y="764.10" width="60.40" height="197.00" fill="#ed2024"/>
<line x1="942.50" y1="696.50" x2="942.50" y2="836.30" stroke="#231f20" stroke-width="1.8" stroke-linecap="butt"/>
<line x1="924.50" y1="696.50" x2="960.50" y2="696.50" stroke="#231f20" stroke-width="1.8" stroke-linecap="butt"/>
<line x1="924.50" y1="836.30" x2="960.50" y2="836.30" stroke="#231f20" stroke-width="1.8" stroke-linecap="butt"/>
<line x1="1051.90" y1="660.30" x2="1051.90" y2="856.90" stroke="#231f20" stroke-width="1.8" stroke-linecap="butt"/>
<line x1="1033.90" y1="660.30" x2="1069.90" y2="660.30" stroke="#231f20" stroke-width="1.8" stroke-linecap="butt"/>
<line x1="1033.90" y1="856.90" x2="1069.90" y2="856.90" stroke="#231f20" stroke-width="1.8" stroke-linecap="butt"/>
<circle cx="942.50" cy="638.30" r="5.6" fill="#fff" stroke="#231f20" stroke-width="3.8"/>
<circle cx="942.50" cy="670.90" r="5.6" fill="#fff" stroke="#231f20" stroke-width="3.8"/>
<circle cx="932.40" cy="690.60" r="5.6" fill="#fff" stroke="#231f20" stroke-width="3.8"/>
<circle cx="952.90" cy="692.70" r="5.6" fill="#fff" stroke="#231f20" stroke-width="3.8"/>
<circle cx="942.50" cy="710.90" r="5.6" fill="#fff" stroke="#231f20" stroke-width="3.8"/>
<circle cx="942.50" cy="740.70" r="5.6" fill="#fff" stroke="#231f20" stroke-width="3.8"/>
<circle cx="932.40" cy="775.30" r="5.6" fill="#fff" stroke="#231f20" stroke-width="3.8"/>
<circle cx="952.90" cy="773.30" r="5.6" fill="#fff" stroke="#231f20" stroke-width="3.8"/>
<circle cx="911.70" cy="813.70" r="5.6" fill="#fff" stroke="#231f20" stroke-width="3.8"/>
<circle cx="932.40" cy="820.30" r="5.6" fill="#fff" stroke="#231f20" stroke-width="3.8"/>
<circle cx="952.90" cy="818.20" r="5.6" fill="#fff" stroke="#231f20" stroke-width="3.8"/>
<circle cx="973.60" cy="819.50" r="5.6" fill="#fff" stroke="#231f20" stroke-width="3.8"/>
<circle cx="932.40" cy="833.90" r="5.6" fill="#fff" stroke="#231f20" stroke-width="3.8"/>
<circle cx="952.90" cy="835.90" r="5.6" fill="#fff" stroke="#231f20" stroke-width="3.8"/>
<circle cx="942.50" cy="848.60" r="5.6" fill="#fff" stroke="#231f20" stroke-width="3.8"/>
<circle cx="1041.80" cy="616.10" r="5.6" fill="#fff" stroke="#231f20" stroke-width="3.8"/>
<circle cx="1062.50" cy="611.10" r="5.6" fill="#fff" stroke="#231f20" stroke-width="3.8"/>
<circle cx="1051.90" cy="646.90" r="5.6" fill="#fff" stroke="#231f20" stroke-width="3.8"/>
<circle cx="1051.90" cy="704.50" r="5.6" fill="#fff" stroke="#231f20" stroke-width="3.8"/>
<circle cx="1021.10" cy="728.50" r="5.6" fill="#fff" stroke="#231f20" stroke-width="3.8"/>
<circle cx="1062.50" cy="726.50" r="5.6" fill="#fff" stroke="#231f20" stroke-width="3.8"/>
<circle cx="1083.00" cy="726.80" r="5.6" fill="#fff" stroke="#231f20" stroke-width="3.8"/>
<circle cx="1041.80" cy="737.40" r="5.6" fill="#fff" stroke="#231f20" stroke-width="3.8"/>
<circle cx="1041.80" cy="754.30" r="5.6" fill="#fff" stroke="#231f20" stroke-width="3.8"/>
<circle cx="1062.50" cy="763.90" r="5.6" fill="#fff" stroke="#231f20" stroke-width="3.8"/>
<circle cx="1051.90" cy="806.90" r="5.6" fill="#fff" stroke="#231f20" stroke-width="3.8"/>
<circle cx="1041.80" cy="859.90" r="5.6" fill="#fff" stroke="#231f20" stroke-width="3.8"/>
<circle cx="1062.50" cy="854.90" r="5.6" fill="#fff" stroke="#231f20" stroke-width="3.8"/>
<circle cx="1051.90" cy="910.50" r="5.6" fill="#fff" stroke="#231f20" stroke-width="3.8"/>
<circle cx="1051.90" cy="929.40" r="5.6" fill="#fff" stroke="#231f20" stroke-width="3.8"/>
<line x1="869.95" y1="577.40" x2="869.95" y2="962.90" stroke="#231f20" stroke-width="3.6" stroke-linecap="butt"/>
<line x1="853.60" y1="579.20" x2="869.95" y2="579.20" stroke="#231f20" stroke-width="3.6" stroke-linecap="butt"/>
<line x1="853.60" y1="674.70" x2="869.95" y2="674.70" stroke="#231f20" stroke-width="3.6" stroke-linecap="butt"/>
<line x1="853.60" y1="770.15" x2="869.95" y2="770.15" stroke="#231f20" stroke-width="3.6" stroke-linecap="butt"/>
<line x1="853.60" y1="865.60" x2="869.95" y2="865.60" stroke="#231f20" stroke-width="3.6" stroke-linecap="butt"/>
<line x1="853.60" y1="961.10" x2="869.95" y2="961.10" stroke="#231f20" stroke-width="3.6" stroke-linecap="butt"/>
<line x1="853.60" y1="961.10" x2="1126.50" y2="961.10" stroke="#231f20" stroke-width="3.6" stroke-linecap="butt"/>
<line x1="942.50" y1="961.10" x2="942.50" y2="977.40" stroke="#231f20" stroke-width="3.6" stroke-linecap="butt"/>
<line x1="1051.90" y1="961.10" x2="1051.90" y2="977.40" stroke="#231f20" stroke-width="3.6" stroke-linecap="butt"/>
<text transform="translate(848.92,589.59) scale(1.000,1.020)" font-size="29.6" font-weight="bold" text-anchor="end"  >8</text>
<text transform="translate(849.31,685.09) scale(1.000,1.020)" font-size="29.6" font-weight="bold" text-anchor="end"  >7</text>
<text transform="translate(849.07,780.54) scale(1.000,1.020)" font-size="29.6" font-weight="bold" text-anchor="end"  >6</text>
<text transform="translate(848.83,875.99) scale(1.000,1.020)" font-size="29.6" font-weight="bold" text-anchor="end"  >5</text>
<text transform="translate(848.15,971.49) scale(1.000,1.020)" font-size="29.6" font-weight="bold" text-anchor="end"  >4</text>
<rect x="1313.70" y="778.90" width="72.00" height="181.40" fill="#231f20"/>
<rect x="1423.00" y="757.60" width="71.60" height="202.70" fill="#231f20"/>
<rect x="1428.20" y="762.80" width="61.20" height="197.50" fill="#ed2024"/>
<line x1="1349.70" y1="710.20" x2="1349.70" y2="847.60" stroke="#231f20" stroke-width="1.8" stroke-linecap="butt"/>
<line x1="1331.70" y1="710.20" x2="1367.70" y2="710.20" stroke="#231f20" stroke-width="1.8" stroke-linecap="butt"/>
<line x1="1331.70" y1="847.60" x2="1367.70" y2="847.60" stroke="#231f20" stroke-width="1.8" stroke-linecap="butt"/>
<line x1="1458.60" y1="706.10" x2="1458.60" y2="807.20" stroke="#231f20" stroke-width="1.8" stroke-linecap="butt"/>
<line x1="1440.60" y1="706.10" x2="1476.60" y2="706.10" stroke="#231f20" stroke-width="1.8" stroke-linecap="butt"/>
<line x1="1440.60" y1="807.20" x2="1476.60" y2="807.20" stroke="#231f20" stroke-width="1.8" stroke-linecap="butt"/>
<circle cx="1326.00" cy="684.20" r="5.6" fill="#fff" stroke="#231f20" stroke-width="3.8"/>
<circle cx="1372.90" cy="689.40" r="5.6" fill="#fff" stroke="#231f20" stroke-width="3.8"/>
<circle cx="1349.70" cy="691.90" r="5.6" fill="#fff" stroke="#231f20" stroke-width="3.8"/>
<circle cx="1349.70" cy="708.90" r="5.6" fill="#fff" stroke="#231f20" stroke-width="3.8"/>
<circle cx="1349.70" cy="726.20" r="5.6" fill="#fff" stroke="#231f20" stroke-width="3.8"/>
<circle cx="1349.70" cy="749.30" r="5.6" fill="#fff" stroke="#231f20" stroke-width="3.8"/>
<circle cx="1349.70" cy="775.10" r="5.6" fill="#fff" stroke="#231f20" stroke-width="3.8"/>
<circle cx="1372.90" cy="788.70" r="5.6" fill="#fff" stroke="#231f20" stroke-width="3.8"/>
<circle cx="1326.00" cy="795.60" r="5.6" fill="#fff" stroke="#231f20" stroke-width="3.8"/>
<circle cx="1349.70" cy="793.10" r="5.6" fill="#fff" stroke="#231f20" stroke-width="3.8"/>
<circle cx="1349.70" cy="826.00" r="5.6" fill="#fff" stroke="#231f20" stroke-width="3.8"/>
<circle cx="1326.00" cy="853.50" r="5.6" fill="#fff" stroke="#231f20" stroke-width="3.8"/>
<circle cx="1372.90" cy="858.20" r="5.6" fill="#fff" stroke="#231f20" stroke-width="3.8"/>
<circle cx="1349.70" cy="862.00" r="5.6" fill="#fff" stroke="#231f20" stroke-width="3.8"/>
<circle cx="1349.70" cy="889.60" r="5.6" fill="#fff" stroke="#231f20" stroke-width="3.8"/>
<circle cx="1459.10" cy="641.80" r="5.6" fill="#fff" stroke="#231f20" stroke-width="3.8"/>
<circle cx="1459.10" cy="699.90" r="5.6" fill="#fff" stroke="#231f20" stroke-width="3.8"/>
<circle cx="1459.10" cy="715.10" r="5.6" fill="#fff" stroke="#231f20" stroke-width="3.8"/>
<circle cx="1448.00" cy="729.50" r="5.6" fill="#fff" stroke="#231f20" stroke-width="3.8"/>
<circle cx="1470.20" cy="730.50" r="5.6" fill="#fff" stroke="#231f20" stroke-width="3.8"/>
<circle cx="1436.40" cy="745.50" r="5.6" fill="#fff" stroke="#231f20" stroke-width="3.8"/>
<circle cx="1459.10" cy="750.60" r="5.6" fill="#fff" stroke="#231f20" stroke-width="3.8"/>
<circle cx="1436.40" cy="759.10" r="5.6" fill="#fff" stroke="#231f20" stroke-width="3.8"/>
<circle cx="1482.30" cy="767.30" r="5.6" fill="#fff" stroke="#231f20" stroke-width="3.8"/>
<circle cx="1436.40" cy="775.10" r="5.6" fill="#fff" stroke="#231f20" stroke-width="3.8"/>
<circle cx="1459.10" cy="781.00" r="5.6" fill="#fff" stroke="#231f20" stroke-width="3.8"/>
<circle cx="1482.30" cy="778.90" r="5.6" fill="#fff" stroke="#231f20" stroke-width="3.8"/>
<circle cx="1459.10" cy="809.00" r="5.6" fill="#fff" stroke="#231f20" stroke-width="3.8"/>
<circle cx="1459.10" cy="821.40" r="5.6" fill="#fff" stroke="#231f20" stroke-width="3.8"/>
<circle cx="1459.10" cy="843.80" r="5.6" fill="#fff" stroke="#231f20" stroke-width="3.8"/>
<line x1="1277.70" y1="576.30" x2="1277.70" y2="962.10" stroke="#231f20" stroke-width="3.6" stroke-linecap="butt"/>
<line x1="1261.00" y1="578.10" x2="1277.70" y2="578.10" stroke="#231f20" stroke-width="3.6" stroke-linecap="butt"/>
<line x1="1261.00" y1="641.70" x2="1277.70" y2="641.70" stroke="#231f20" stroke-width="3.6" stroke-linecap="butt"/>
<line x1="1261.00" y1="705.60" x2="1277.70" y2="705.60" stroke="#231f20" stroke-width="3.6" stroke-linecap="butt"/>
<line x1="1261.00" y1="769.40" x2="1277.70" y2="769.40" stroke="#231f20" stroke-width="3.6" stroke-linecap="butt"/>
<line x1="1261.00" y1="833.00" x2="1277.70" y2="833.00" stroke="#231f20" stroke-width="3.6" stroke-linecap="butt"/>
<line x1="1261.00" y1="896.50" x2="1277.70" y2="896.50" stroke="#231f20" stroke-width="3.6" stroke-linecap="butt"/>
<line x1="1261.00" y1="960.30" x2="1277.70" y2="960.30" stroke="#231f20" stroke-width="3.6" stroke-linecap="butt"/>
<line x1="1261.00" y1="960.30" x2="1535.00" y2="960.30" stroke="#231f20" stroke-width="3.6" stroke-linecap="butt"/>
<line x1="1349.70" y1="960.30" x2="1349.70" y2="975.80" stroke="#231f20" stroke-width="3.6" stroke-linecap="butt"/>
<line x1="1458.60" y1="960.30" x2="1458.60" y2="975.80" stroke="#231f20" stroke-width="3.6" stroke-linecap="butt"/>
<text transform="translate(1256.97,588.49) scale(1.000,1.020)" font-size="29.6" font-weight="bold" text-anchor="end"  >1.6</text>
<text transform="translate(1256.73,652.09) scale(1.000,1.020)" font-size="29.6" font-weight="bold" text-anchor="end"  >1.5</text>
<text transform="translate(1256.05,715.99) scale(1.000,1.020)" font-size="29.6" font-weight="bold" text-anchor="end"  >1.4</text>
<text transform="translate(1256.97,779.79) scale(1.000,1.020)" font-size="29.6" font-weight="bold" text-anchor="end"  >1.3</text>
<text transform="translate(1257.09,843.39) scale(1.000,1.020)" font-size="29.6" font-weight="bold" text-anchor="end"  >1.2</text>
<text transform="translate(1256.73,906.89) scale(1.000,1.020)" font-size="29.6" font-weight="bold" text-anchor="end"  >1.1</text>
<text transform="translate(1257.12,970.69) scale(1.000,1.020)" font-size="29.6" font-weight="bold" text-anchor="end"  >1.0</text>
<rect x="479.60" y="1346.20" width="72.30" height="160.20" fill="#231f20"/>
<rect x="588.30" y="1280.90" width="72.00" height="225.50" fill="#231f20"/>
<rect x="593.50" y="1286.10" width="61.60" height="220.30" fill="#ed2024"/>
<line x1="515.50" y1="1249.30" x2="515.50" y2="1443.10" stroke="#231f20" stroke-width="1.8" stroke-linecap="butt"/>
<line x1="497.50" y1="1249.30" x2="533.50" y2="1249.30" stroke="#231f20" stroke-width="1.8" stroke-linecap="butt"/>
<line x1="497.50" y1="1443.10" x2="533.50" y2="1443.10" stroke="#231f20" stroke-width="1.8" stroke-linecap="butt"/>
<line x1="625.00" y1="1179.20" x2="625.00" y2="1382.30" stroke="#231f20" stroke-width="1.8" stroke-linecap="butt"/>
<line x1="607.00" y1="1179.20" x2="643.00" y2="1179.20" stroke="#231f20" stroke-width="1.8" stroke-linecap="butt"/>
<line x1="607.00" y1="1382.30" x2="643.00" y2="1382.30" stroke="#231f20" stroke-width="1.8" stroke-linecap="butt"/>
<circle cx="515.50" cy="1181.50" r="5.6" fill="#fff" stroke="#231f20" stroke-width="3.8"/>
<circle cx="515.50" cy="1201.10" r="5.6" fill="#fff" stroke="#231f20" stroke-width="3.8"/>
<circle cx="507.70" cy="1224.90" r="5.6" fill="#fff" stroke="#231f20" stroke-width="3.8"/>
<circle cx="522.50" cy="1223.50" r="5.6" fill="#fff" stroke="#231f20" stroke-width="3.8"/>
<circle cx="515.50" cy="1255.10" r="5.6" fill="#fff" stroke="#231f20" stroke-width="3.8"/>
<circle cx="515.50" cy="1381.80" r="5.6" fill="#fff" stroke="#231f20" stroke-width="3.8"/>
<circle cx="484.70" cy="1399.10" r="5.6" fill="#fff" stroke="#231f20" stroke-width="3.8"/>
<circle cx="530.90" cy="1396.60" r="5.6" fill="#fff" stroke="#231f20" stroke-width="3.8"/>
<circle cx="546.30" cy="1399.10" r="5.6" fill="#fff" stroke="#231f20" stroke-width="3.8"/>
<circle cx="500.10" cy="1406.40" r="5.6" fill="#fff" stroke="#231f20" stroke-width="3.8"/>
<circle cx="515.50" cy="1409.20" r="5.6" fill="#fff" stroke="#231f20" stroke-width="3.8"/>
<circle cx="530.90" cy="1408.40" r="5.6" fill="#fff" stroke="#231f20" stroke-width="3.8"/>
<circle cx="515.50" cy="1421.00" r="5.6" fill="#fff" stroke="#231f20" stroke-width="3.8"/>
<circle cx="522.50" cy="1435.50" r="5.6" fill="#fff" stroke="#231f20" stroke-width="3.8"/>
<circle cx="507.70" cy="1445.60" r="5.6" fill="#fff" stroke="#231f20" stroke-width="3.8"/>
<circle cx="625.30" cy="1154.30" r="5.6" fill="#fff" stroke="#231f20" stroke-width="3.8"/>
<circle cx="625.30" cy="1171.10" r="5.6" fill="#fff" stroke="#231f20" stroke-width="3.8"/>
<circle cx="625.30" cy="1201.10" r="5.6" fill="#fff" stroke="#231f20" stroke-width="3.8"/>
<circle cx="625.30" cy="1213.70" r="5.6" fill="#fff" stroke="#231f20" stroke-width="3.8"/>
<circle cx="601.80" cy="1235.20" r="5.6" fill="#fff" stroke="#231f20" stroke-width="3.8"/>
<circle cx="625.30" cy="1235.20" r="5.6" fill="#fff" stroke="#231f20" stroke-width="3.8"/>
<circle cx="648.00" cy="1228.20" r="5.6" fill="#fff" stroke="#231f20" stroke-width="3.8"/>
<circle cx="648.00" cy="1241.10" r="5.6" fill="#fff" stroke="#231f20" stroke-width="3.8"/>
<circle cx="625.30" cy="1252.90" r="5.6" fill="#fff" stroke="#231f20" stroke-width="3.8"/>
<circle cx="625.30" cy="1276.70" r="5.6" fill="#fff" stroke="#231f20" stroke-width="3.8"/>
<circle cx="648.00" cy="1271.90" r="5.6" fill="#fff" stroke="#231f20" stroke-width="3.8"/>
<circle cx="625.30" cy="1385.10" r="5.6" fill="#fff" stroke="#231f20" stroke-width="3.8"/>
<circle cx="625.30" cy="1438.30" r="5.6" fill="#fff" stroke="#231f20" stroke-width="3.8"/>
<circle cx="613.60" cy="1457.40" r="5.6" fill="#fff" stroke="#231f20" stroke-width="3.8"/>
<circle cx="636.50" cy="1450.40" r="5.6" fill="#fff" stroke="#231f20" stroke-width="3.8"/>
<line x1="442.70" y1="1123.30" x2="442.70" y2="1508.20" stroke="#231f20" stroke-width="3.6" stroke-linecap="butt"/>
<line x1="426.70" y1="1125.10" x2="442.70" y2="1125.10" stroke="#231f20" stroke-width="3.6" stroke-linecap="butt"/>
<line x1="426.70" y1="1201.30" x2="442.70" y2="1201.30" stroke="#231f20" stroke-width="3.6" stroke-linecap="butt"/>
<line x1="426.70" y1="1277.30" x2="442.70" y2="1277.30" stroke="#231f20" stroke-width="3.6" stroke-linecap="butt"/>
<line x1="426.70" y1="1353.70" x2="442.70" y2="1353.70" stroke="#231f20" stroke-width="3.6" stroke-linecap="butt"/>
<line x1="426.70" y1="1430.20" x2="442.70" y2="1430.20" stroke="#231f20" stroke-width="3.6" stroke-linecap="butt"/>
<line x1="426.70" y1="1506.40" x2="442.70" y2="1506.40" stroke="#231f20" stroke-width="3.6" stroke-linecap="butt"/>
<line x1="426.70" y1="1506.40" x2="699.80" y2="1506.40" stroke="#231f20" stroke-width="3.6" stroke-linecap="butt"/>
<line x1="514.70" y1="1506.40" x2="514.70" y2="1523.20" stroke="#231f20" stroke-width="3.6" stroke-linecap="butt"/>
<line x1="624.70" y1="1506.40" x2="624.70" y2="1523.20" stroke="#231f20" stroke-width="3.6" stroke-linecap="butt"/>
<polyline points="513.60,1168.90 513.60,1121.20 630.60,1121.20 630.60,1135.30" fill="none" stroke="#231f20" stroke-width="3.4" stroke-linejoin="round"/>
<text transform="translate(423.41,1135.49) scale(1.000,1.020)" font-size="29.6" font-weight="bold" text-anchor="end"  >48000</text>
<text transform="translate(423.41,1211.69) scale(1.000,1.020)" font-size="29.6" font-weight="bold" text-anchor="end"  >46000</text>
<text transform="translate(423.41,1287.69) scale(1.000,1.020)" font-size="29.6" font-weight="bold" text-anchor="end"  >44000</text>
<text transform="translate(423.41,1364.09) scale(1.000,1.020)" font-size="29.6" font-weight="bold" text-anchor="end"  >42000</text>
<text transform="translate(423.41,1440.59) scale(1.000,1.020)" font-size="29.6" font-weight="bold" text-anchor="end"  >40000</text>
<text transform="translate(423.41,1516.79) scale(1.000,1.020)" font-size="29.6" font-weight="bold" text-anchor="end"  >38000</text>
<rect x="886.80" y="1398.30" width="55.40" height="29.30" fill="#231f20"/>
<rect x="891.40" y="1402.90" width="46.20" height="24.70" fill="#333132"/>
<rect x="970.80" y="1342.00" width="55.40" height="85.60" fill="#231f20"/>
<rect x="975.40" y="1346.60" width="46.20" height="81.00" fill="#231f20"/>
<rect x="976.00" y="1421.70" width="45.00" height="2.0" fill="#ffffff"/>
<rect x="976.00" y="1412.66" width="45.00" height="2.0" fill="#ffffff"/>
<rect x="976.00" y="1403.62" width="45.00" height="2.0" fill="#ffffff"/>
<rect x="976.00" y="1394.58" width="45.00" height="2.0" fill="#ffffff"/>
<rect x="976.00" y="1385.54" width="45.00" height="2.0" fill="#ffffff"/>
<rect x="976.00" y="1376.50" width="45.00" height="2.0" fill="#ffffff"/>
<rect x="976.00" y="1367.46" width="45.00" height="2.0" fill="#ffffff"/>
<rect x="976.00" y="1358.42" width="45.00" height="2.0" fill="#ffffff"/>
<rect x="976.00" y="1349.38" width="45.00" height="2.0" fill="#ffffff"/>
<rect x="1054.60" y="1344.60" width="55.40" height="83.00" fill="#231f20"/>
<rect x="1059.20" y="1349.20" width="46.20" height="78.40" fill="#ed2024"/>
<rect x="1138.60" y="1317.50" width="55.00" height="110.10" fill="#231f20"/>
<rect x="1143.20" y="1322.10" width="45.80" height="105.50" fill="#ed2024"/>
<rect x="1143.80" y="1421.70" width="44.60" height="2.0" fill="#fbe3e3"/>
<rect x="1143.80" y="1412.66" width="44.60" height="2.0" fill="#fbe3e3"/>
<rect x="1143.80" y="1403.62" width="44.60" height="2.0" fill="#fbe3e3"/>
<rect x="1143.80" y="1394.58" width="44.60" height="2.0" fill="#fbe3e3"/>
<rect x="1143.80" y="1385.54" width="44.60" height="2.0" fill="#fbe3e3"/>
<rect x="1143.80" y="1376.50" width="44.60" height="2.0" fill="#fbe3e3"/>
<rect x="1143.80" y="1367.46" width="44.60" height="2.0" fill="#fbe3e3"/>
<rect x="1143.80" y="1358.42" width="44.60" height="2.0" fill="#fbe3e3"/>
<rect x="1143.80" y="1349.38" width="44.60" height="2.0" fill="#fbe3e3"/>
<rect x="1143.80" y="1340.34" width="44.60" height="2.0" fill="#fbe3e3"/>
<rect x="1143.80" y="1331.30" width="44.60" height="2.0" fill="#fbe3e3"/>
<line x1="913.80" y1="1375.50" x2="913.80" y2="1421.10" stroke="#231f20" stroke-width="1.6" stroke-linecap="butt"/>
<line x1="900.30" y1="1375.50" x2="927.30" y2="1375.50" stroke="#231f20" stroke-width="1.6" stroke-linecap="butt"/>
<line x1="900.30" y1="1421.10" x2="927.30" y2="1421.10" stroke="#231f20" stroke-width="1.6" stroke-linecap="butt"/>
<line x1="997.60" y1="1291.80" x2="997.60" y2="1392.20" stroke="#231f20" stroke-width="1.6" stroke-linecap="butt"/>
<line x1="984.10" y1="1291.80" x2="1011.10" y2="1291.80" stroke="#231f20" stroke-width="1.6" stroke-linecap="butt"/>
<line x1="984.10" y1="1392.20" x2="1011.10" y2="1392.20" stroke="#231f20" stroke-width="1.6" stroke-linecap="butt"/>
<line x1="1081.60" y1="1286.60" x2="1081.60" y2="1400.60" stroke="#231f20" stroke-width="1.6" stroke-linecap="butt"/>
<line x1="1068.10" y1="1286.60" x2="1095.10" y2="1286.60" stroke="#231f20" stroke-width="1.6" stroke-linecap="butt"/>
<line x1="1068.10" y1="1400.60" x2="1095.10" y2="1400.60" stroke="#231f20" stroke-width="1.6" stroke-linecap="butt"/>
<line x1="1166.00" y1="1225.70" x2="1166.00" y2="1408.00" stroke="#231f20" stroke-width="1.6" stroke-linecap="butt"/>
<line x1="1152.50" y1="1225.70" x2="1179.50" y2="1225.70" stroke="#231f20" stroke-width="1.6" stroke-linecap="butt"/>
<line x1="1152.50" y1="1408.00" x2="1179.50" y2="1408.00" stroke="#231f20" stroke-width="1.6" stroke-linecap="butt"/>
<ellipse cx="913.80" cy="1351.10" rx="7.4" ry="5.9" fill="#fff" stroke="#231f20" stroke-width="3.8"/>
<ellipse cx="913.80" cy="1392.40" rx="7.4" ry="5.9" fill="#fff" stroke="#231f20" stroke-width="3.8"/>
<ellipse cx="893.30" cy="1402.20" rx="7.4" ry="5.9" fill="#fff" stroke="#231f20" stroke-width="3.8"/>
<ellipse cx="935.00" cy="1400.00" rx="7.4" ry="5.9" fill="#fff" stroke="#231f20" stroke-width="3.8"/>
<ellipse cx="913.80" cy="1407.10" rx="7.4" ry="5.9" fill="#fff" stroke="#231f20" stroke-width="3.8"/>
<ellipse cx="893.30" cy="1418.80" rx="7.4" ry="5.9" fill="#fff" stroke="#231f20" stroke-width="3.8"/>
<ellipse cx="935.00" cy="1414.00" rx="7.4" ry="5.9" fill="#fff" stroke="#231f20" stroke-width="3.8"/>
<ellipse cx="997.60" cy="1247.80" rx="7.4" ry="5.9" fill="#fff" stroke="#231f20" stroke-width="3.8"/>
<ellipse cx="977.00" cy="1313.00" rx="7.4" ry="5.9" fill="#fff" stroke="#231f20" stroke-width="3.8"/>
<ellipse cx="1019.40" cy="1313.60" rx="7.4" ry="5.9" fill="#fff" stroke="#231f20" stroke-width="3.8"/>
<ellipse cx="997.60" cy="1344.60" rx="7.4" ry="5.9" fill="#fff" stroke="#231f20" stroke-width="3.8"/>
<ellipse cx="977.00" cy="1363.50" rx="7.4" ry="5.9" fill="#fff" stroke="#231f20" stroke-width="3.8"/>
<ellipse cx="1019.40" cy="1359.20" rx="7.4" ry="5.9" fill="#fff" stroke="#231f20" stroke-width="3.8"/>
<ellipse cx="997.60" cy="1386.90" rx="7.4" ry="5.9" fill="#fff" stroke="#231f20" stroke-width="3.8"/>
<ellipse cx="997.60" cy="1406.50" rx="7.4" ry="5.9" fill="#fff" stroke="#231f20" stroke-width="3.8"/>
<ellipse cx="1081.60" cy="1250.70" rx="7.4" ry="5.9" fill="#fff" stroke="#231f20" stroke-width="3.8"/>
<ellipse cx="1081.60" cy="1307.10" rx="7.4" ry="5.9" fill="#fff" stroke="#231f20" stroke-width="3.8"/>
<ellipse cx="1081.60" cy="1325.00" rx="7.4" ry="5.9" fill="#fff" stroke="#231f20" stroke-width="3.8"/>
<ellipse cx="1081.60" cy="1343.60" rx="7.4" ry="5.9" fill="#fff" stroke="#231f20" stroke-width="3.8"/>
<ellipse cx="1081.60" cy="1367.40" rx="7.4" ry="5.9" fill="#fff" stroke="#231f20" stroke-width="3.8"/>
<ellipse cx="1081.60" cy="1388.50" rx="7.4" ry="5.9" fill="#fff" stroke="#231f20" stroke-width="3.8"/>
<ellipse cx="1081.60" cy="1424.40" rx="7.4" ry="5.9" fill="#fff" stroke="#231f20" stroke-width="3.8"/>
<ellipse cx="1145.10" cy="1193.10" rx="7.4" ry="5.9" fill="#fff" stroke="#231f20" stroke-width="3.8"/>
<ellipse cx="1186.50" cy="1185.90" rx="7.4" ry="5.9" fill="#fff" stroke="#231f20" stroke-width="3.8"/>
<ellipse cx="1166.30" cy="1259.90" rx="7.4" ry="5.9" fill="#fff" stroke="#231f20" stroke-width="3.8"/>
<ellipse cx="1145.10" cy="1347.80" rx="7.4" ry="5.9" fill="#fff" stroke="#231f20" stroke-width="3.8"/>
<ellipse cx="1186.50" cy="1354.30" rx="7.4" ry="5.9" fill="#fff" stroke="#231f20" stroke-width="3.8"/>
<ellipse cx="1166.30" cy="1386.90" rx="7.4" ry="5.9" fill="#fff" stroke="#231f20" stroke-width="3.8"/>
<ellipse cx="1166.30" cy="1398.30" rx="7.4" ry="5.9" fill="#fff" stroke="#231f20" stroke-width="3.8"/>
<ellipse cx="1166.30" cy="1410.70" rx="7.4" ry="5.9" fill="#fff" stroke="#231f20" stroke-width="3.8"/>
<line x1="858.30" y1="1124.10" x2="858.30" y2="1429.40" stroke="#231f20" stroke-width="3.6" stroke-linecap="butt"/>
<line x1="843.80" y1="1125.90" x2="858.30" y2="1125.90" stroke="#231f20" stroke-width="3.6" stroke-linecap="butt"/>
<line x1="843.80" y1="1226.50" x2="858.30" y2="1226.50" stroke="#231f20" stroke-width="3.6" stroke-linecap="butt"/>
<line x1="843.80" y1="1327.00" x2="858.30" y2="1327.00" stroke="#231f20" stroke-width="3.6" stroke-linecap="butt"/>
<line x1="843.80" y1="1427.60" x2="858.30" y2="1427.60" stroke="#231f20" stroke-width="3.6" stroke-linecap="butt"/>
<line x1="843.80" y1="1427.60" x2="1224.00" y2="1427.60" stroke="#231f20" stroke-width="3.6" stroke-linecap="butt"/>
<line x1="913.80" y1="1427.60" x2="913.80" y2="1439.50" stroke="#231f20" stroke-width="3.6" stroke-linecap="butt"/>
<line x1="997.60" y1="1427.60" x2="997.60" y2="1439.50" stroke="#231f20" stroke-width="3.6" stroke-linecap="butt"/>
<line x1="1081.60" y1="1427.60" x2="1081.60" y2="1439.50" stroke="#231f20" stroke-width="3.6" stroke-linecap="butt"/>
<line x1="1166.00" y1="1427.60" x2="1166.00" y2="1439.50" stroke="#231f20" stroke-width="3.6" stroke-linecap="butt"/>
<text transform="translate(839.01,1134.12) scale(1.170,1.000)" font-size="23.9" font-weight="bold" text-anchor="end"  >0.3</text>
<text transform="translate(839.12,1234.72) scale(1.170,1.000)" font-size="23.9" font-weight="bold" text-anchor="end"  >0.2</text>
<text transform="translate(838.79,1335.22) scale(1.170,1.000)" font-size="23.9" font-weight="bold" text-anchor="end"  >0.1</text>
<text transform="translate(839.15,1435.82) scale(1.170,1.000)" font-size="23.9" font-weight="bold" text-anchor="end"  >0.0</text>
<rect x="411.10" y="1875.90" width="55.60" height="65.70" fill="#231f20"/>
<rect x="415.70" y="1880.50" width="46.40" height="61.10" fill="#333132"/>
<rect x="494.90" y="1775.10" width="55.50" height="166.50" fill="#231f20"/>
<rect x="499.50" y="1779.70" width="46.30" height="161.90" fill="#231f20"/>
<rect x="500.10" y="1937.60" width="45.10" height="2.0" fill="#ffffff"/>
<rect x="500.10" y="1928.56" width="45.10" height="2.0" fill="#ffffff"/>
<rect x="500.10" y="1919.52" width="45.10" height="2.0" fill="#ffffff"/>
<rect x="500.10" y="1910.48" width="45.10" height="2.0" fill="#ffffff"/>
<rect x="500.10" y="1901.44" width="45.10" height="2.0" fill="#ffffff"/>
<rect x="500.10" y="1892.40" width="45.10" height="2.0" fill="#ffffff"/>
<rect x="500.10" y="1883.36" width="45.10" height="2.0" fill="#ffffff"/>
<rect x="500.10" y="1874.32" width="45.10" height="2.0" fill="#ffffff"/>
<rect x="500.10" y="1865.28" width="45.10" height="2.0" fill="#ffffff"/>
<rect x="500.10" y="1856.24" width="45.10" height="2.0" fill="#ffffff"/>
<rect x="500.10" y="1847.20" width="45.10" height="2.0" fill="#ffffff"/>
<rect x="500.10" y="1838.16" width="45.10" height="2.0" fill="#ffffff"/>
<rect x="500.10" y="1829.12" width="45.10" height="2.0" fill="#ffffff"/>
<rect x="500.10" y="1820.08" width="45.10" height="2.0" fill="#ffffff"/>
<rect x="500.10" y="1811.04" width="45.10" height="2.0" fill="#ffffff"/>
<rect x="500.10" y="1802.00" width="45.10" height="2.0" fill="#ffffff"/>
<rect x="500.10" y="1792.96" width="45.10" height="2.0" fill="#ffffff"/>
<rect x="500.10" y="1783.92" width="45.10" height="2.0" fill="#ffffff"/>
<rect x="578.60" y="1845.50" width="55.70" height="96.10" fill="#231f20"/>
<rect x="583.20" y="1850.10" width="46.50" height="91.50" fill="#ed2024"/>
<rect x="662.40" y="1793.00" width="55.40" height="148.60" fill="#231f20"/>
<rect x="667.00" y="1797.60" width="46.20" height="144.00" fill="#ed2024"/>
<rect x="667.60" y="1937.60" width="45.00" height="2.0" fill="#fbe3e3"/>
<rect x="667.60" y="1928.56" width="45.00" height="2.0" fill="#fbe3e3"/>
<rect x="667.60" y="1919.52" width="45.00" height="2.0" fill="#fbe3e3"/>
<rect x="667.60" y="1910.48" width="45.00" height="2.0" fill="#fbe3e3"/>
<rect x="667.60" y="1901.44" width="45.00" height="2.0" fill="#fbe3e3"/>
<rect x="667.60" y="1892.40" width="45.00" height="2.0" fill="#fbe3e3"/>
<rect x="667.60" y="1883.36" width="45.00" height="2.0" fill="#fbe3e3"/>
<rect x="667.60" y="1874.32" width="45.00" height="2.0" fill="#fbe3e3"/>
<rect x="667.60" y="1865.28" width="45.00" height="2.0" fill="#fbe3e3"/>
<rect x="667.60" y="1856.24" width="45.00" height="2.0" fill="#fbe3e3"/>
<rect x="667.60" y="1847.20" width="45.00" height="2.0" fill="#fbe3e3"/>
<rect x="667.60" y="1838.16" width="45.00" height="2.0" fill="#fbe3e3"/>
<rect x="667.60" y="1829.12" width="45.00" height="2.0" fill="#fbe3e3"/>
<rect x="667.60" y="1820.08" width="45.00" height="2.0" fill="#fbe3e3"/>
<rect x="667.60" y="1811.04" width="45.00" height="2.0" fill="#fbe3e3"/>
<rect x="667.60" y="1802.00" width="45.00" height="2.0" fill="#fbe3e3"/>
<line x1="438.90" y1="1853.30" x2="438.90" y2="1898.30" stroke="#231f20" stroke-width="1.6" stroke-linecap="butt"/>
<line x1="425.40" y1="1853.30" x2="452.40" y2="1853.30" stroke="#231f20" stroke-width="1.6" stroke-linecap="butt"/>
<line x1="425.40" y1="1898.30" x2="452.40" y2="1898.30" stroke="#231f20" stroke-width="1.6" stroke-linecap="butt"/>
<line x1="522.70" y1="1737.30" x2="522.70" y2="1812.90" stroke="#231f20" stroke-width="1.6" stroke-linecap="butt"/>
<line x1="509.20" y1="1737.30" x2="536.20" y2="1737.30" stroke="#231f20" stroke-width="1.6" stroke-linecap="butt"/>
<line x1="509.20" y1="1812.90" x2="536.20" y2="1812.90" stroke="#231f20" stroke-width="1.6" stroke-linecap="butt"/>
<line x1="606.10" y1="1803.90" x2="606.10" y2="1886.10" stroke="#231f20" stroke-width="1.6" stroke-linecap="butt"/>
<line x1="592.60" y1="1803.90" x2="619.60" y2="1803.90" stroke="#231f20" stroke-width="1.6" stroke-linecap="butt"/>
<line x1="592.60" y1="1886.10" x2="619.60" y2="1886.10" stroke="#231f20" stroke-width="1.6" stroke-linecap="butt"/>
<line x1="690.60" y1="1751.40" x2="690.60" y2="1835.80" stroke="#231f20" stroke-width="1.6" stroke-linecap="butt"/>
<line x1="677.10" y1="1751.40" x2="704.10" y2="1751.40" stroke="#231f20" stroke-width="1.6" stroke-linecap="butt"/>
<line x1="677.10" y1="1835.80" x2="704.10" y2="1835.80" stroke="#231f20" stroke-width="1.6" stroke-linecap="butt"/>
<ellipse cx="438.90" cy="1850.20" rx="7.4" ry="5.9" fill="#fff" stroke="#231f20" stroke-width="3.8"/>
<ellipse cx="459.20" cy="1843.00" rx="7.4" ry="5.9" fill="#fff" stroke="#231f20" stroke-width="3.8"/>
<ellipse cx="418.50" cy="1873.60" rx="7.4" ry="5.9" fill="#fff" stroke="#231f20" stroke-width="3.8"/>
<ellipse cx="459.20" cy="1876.80" rx="7.4" ry="5.9" fill="#fff" stroke="#231f20" stroke-width="3.8"/>
<ellipse cx="438.90" cy="1885.20" rx="7.4" ry="5.9" fill="#fff" stroke="#231f20" stroke-width="3.8"/>
<ellipse cx="459.20" cy="1896.80" rx="7.4" ry="5.9" fill="#fff" stroke="#231f20" stroke-width="3.8"/>
<ellipse cx="418.50" cy="1904.90" rx="7.4" ry="5.9" fill="#fff" stroke="#231f20" stroke-width="3.8"/>
<ellipse cx="522.70" cy="1714.80" rx="7.4" ry="5.9" fill="#fff" stroke="#231f20" stroke-width="3.8"/>
<ellipse cx="522.70" cy="1730.40" rx="7.4" ry="5.9" fill="#fff" stroke="#231f20" stroke-width="3.8"/>
<ellipse cx="502.30" cy="1771.70" rx="7.4" ry="5.9" fill="#fff" stroke="#231f20" stroke-width="3.8"/>
<ellipse cx="543.60" cy="1767.00" rx="7.4" ry="5.9" fill="#fff" stroke="#231f20" stroke-width="3.8"/>
<ellipse cx="502.30" cy="1791.40" rx="7.4" ry="5.9" fill="#fff" stroke="#231f20" stroke-width="3.8"/>
<ellipse cx="543.60" cy="1787.60" rx="7.4" ry="5.9" fill="#fff" stroke="#231f20" stroke-width="3.8"/>
<ellipse cx="522.70" cy="1810.20" rx="7.4" ry="5.9" fill="#fff" stroke="#231f20" stroke-width="3.8"/>
<ellipse cx="522.70" cy="1834.20" rx="7.4" ry="5.9" fill="#fff" stroke="#231f20" stroke-width="3.8"/>
<ellipse cx="586.40" cy="1796.70" rx="7.4" ry="5.9" fill="#fff" stroke="#231f20" stroke-width="3.8"/>
<ellipse cx="627.40" cy="1796.70" rx="7.4" ry="5.9" fill="#fff" stroke="#231f20" stroke-width="3.8"/>
<ellipse cx="606.80" cy="1827.40" rx="7.4" ry="5.9" fill="#fff" stroke="#231f20" stroke-width="3.8"/>
<ellipse cx="606.80" cy="1839.20" rx="7.4" ry="5.9" fill="#fff" stroke="#231f20" stroke-width="3.8"/>
<ellipse cx="586.40" cy="1878.00" rx="7.4" ry="5.9" fill="#fff" stroke="#231f20" stroke-width="3.8"/>
<ellipse cx="627.40" cy="1884.30" rx="7.4" ry="5.9" fill="#fff" stroke="#231f20" stroke-width="3.8"/>
<ellipse cx="586.40" cy="1893.60" rx="7.4" ry="5.9" fill="#fff" stroke="#231f20" stroke-width="3.8"/>
<ellipse cx="690.60" cy="1696.00" rx="7.4" ry="5.9" fill="#fff" stroke="#231f20" stroke-width="3.8"/>
<ellipse cx="710.90" cy="1787.60" rx="7.4" ry="5.9" fill="#fff" stroke="#231f20" stroke-width="3.8"/>
<ellipse cx="669.60" cy="1799.20" rx="7.4" ry="5.9" fill="#fff" stroke="#231f20" stroke-width="3.8"/>
<ellipse cx="690.60" cy="1796.10" rx="7.4" ry="5.9" fill="#fff" stroke="#231f20" stroke-width="3.8"/>
<ellipse cx="710.90" cy="1802.30" rx="7.4" ry="5.9" fill="#fff" stroke="#231f20" stroke-width="3.8"/>
<ellipse cx="690.60" cy="1813.30" rx="7.4" ry="5.9" fill="#fff" stroke="#231f20" stroke-width="3.8"/>
<ellipse cx="710.90" cy="1824.20" rx="7.4" ry="5.9" fill="#fff" stroke="#231f20" stroke-width="3.8"/>
<ellipse cx="669.60" cy="1831.40" rx="7.4" ry="5.9" fill="#fff" stroke="#231f20" stroke-width="3.8"/>
<line x1="383.00" y1="1638.40" x2="383.00" y2="1943.40" stroke="#231f20" stroke-width="3.6" stroke-linecap="butt"/>
<line x1="367.90" y1="1640.20" x2="383.00" y2="1640.20" stroke="#231f20" stroke-width="3.6" stroke-linecap="butt"/>
<line x1="367.90" y1="1700.50" x2="383.00" y2="1700.50" stroke="#231f20" stroke-width="3.6" stroke-linecap="butt"/>
<line x1="367.90" y1="1760.80" x2="383.00" y2="1760.80" stroke="#231f20" stroke-width="3.6" stroke-linecap="butt"/>
<line x1="367.90" y1="1821.00" x2="383.00" y2="1821.00" stroke="#231f20" stroke-width="3.6" stroke-linecap="butt"/>
<line x1="367.90" y1="1881.30" x2="383.00" y2="1881.30" stroke="#231f20" stroke-width="3.6" stroke-linecap="butt"/>
<line x1="367.90" y1="1941.60" x2="383.00" y2="1941.60" stroke="#231f20" stroke-width="3.6" stroke-linecap="butt"/>
<line x1="367.90" y1="1941.60" x2="748.40" y2="1941.60" stroke="#231f20" stroke-width="3.6" stroke-linecap="butt"/>
<line x1="438.90" y1="1941.60" x2="438.90" y2="1954.60" stroke="#231f20" stroke-width="3.6" stroke-linecap="butt"/>
<line x1="522.70" y1="1941.60" x2="522.70" y2="1954.60" stroke="#231f20" stroke-width="3.6" stroke-linecap="butt"/>
<line x1="606.10" y1="1941.60" x2="606.10" y2="1954.60" stroke="#231f20" stroke-width="3.6" stroke-linecap="butt"/>
<line x1="690.60" y1="1941.60" x2="690.60" y2="1954.60" stroke="#231f20" stroke-width="3.6" stroke-linecap="butt"/>
<polyline points="443.20,1827.40 443.20,1664.30 522.30,1664.30 522.30,1698.80" fill="none" stroke="#231f20" stroke-width="3.4" stroke-linejoin="round"/>
<polyline points="606.40,1768.90 606.40,1655.20 690.30,1655.20 690.30,1678.90" fill="none" stroke="#231f20" stroke-width="3.4" stroke-linejoin="round"/>
<text transform="translate(363.29,1648.42) scale(1.170,1.000)" font-size="23.9" font-weight="bold" text-anchor="end"  >2.5</text>
<text transform="translate(363.65,1708.72) scale(1.170,1.000)" font-size="23.9" font-weight="bold" text-anchor="end"  >2.0</text>
<text transform="translate(363.29,1769.02) scale(1.170,1.000)" font-size="23.9" font-weight="bold" text-anchor="end"  >1.5</text>
<text transform="translate(363.65,1829.22) scale(1.170,1.000)" font-size="23.9" font-weight="bold" text-anchor="end"  >1.0</text>
<text transform="translate(363.29,1889.52) scale(1.170,1.000)" font-size="23.9" font-weight="bold" text-anchor="end"  >0.5</text>
<text transform="translate(363.65,1949.82) scale(1.170,1.000)" font-size="23.9" font-weight="bold" text-anchor="end"  >0.0</text>
<rect x="904.80" y="1784.50" width="54.70" height="154.80" fill="#231f20"/>
<rect x="909.40" y="1789.10" width="45.50" height="150.20" fill="#333132"/>
<rect x="988.30" y="1867.60" width="55.60" height="71.70" fill="#231f20"/>
<rect x="992.90" y="1872.20" width="46.40" height="67.10" fill="#231f20"/>
<rect x="993.50" y="1931.10" width="45.20" height="2.0" fill="#ffffff"/>
<rect x="993.50" y="1922.06" width="45.20" height="2.0" fill="#ffffff"/>
<rect x="993.50" y="1913.02" width="45.20" height="2.0" fill="#ffffff"/>
<rect x="993.50" y="1903.98" width="45.20" height="2.0" fill="#ffffff"/>
<rect x="993.50" y="1894.94" width="45.20" height="2.0" fill="#ffffff"/>
<rect x="993.50" y="1885.90" width="45.20" height="2.0" fill="#ffffff"/>
<rect x="993.50" y="1876.86" width="45.20" height="2.0" fill="#ffffff"/>
<rect x="1072.10" y="1840.80" width="55.30" height="98.50" fill="#231f20"/>
<rect x="1076.70" y="1845.40" width="46.10" height="93.90" fill="#ed2024"/>
<rect x="1155.90" y="1860.80" width="56.30" height="78.50" fill="#231f20"/>
<rect x="1160.50" y="1865.40" width="47.10" height="73.90" fill="#ed2024"/>
<rect x="1161.10" y="1931.10" width="45.90" height="2.0" fill="#fbe3e3"/>
<rect x="1161.10" y="1922.06" width="45.90" height="2.0" fill="#fbe3e3"/>
<rect x="1161.10" y="1913.02" width="45.90" height="2.0" fill="#fbe3e3"/>
<rect x="1161.10" y="1903.98" width="45.90" height="2.0" fill="#fbe3e3"/>
<rect x="1161.10" y="1894.94" width="45.90" height="2.0" fill="#fbe3e3"/>
<rect x="1161.10" y="1885.90" width="45.90" height="2.0" fill="#fbe3e3"/>
<rect x="1161.10" y="1876.86" width="45.90" height="2.0" fill="#fbe3e3"/>
<rect x="1161.10" y="1867.82" width="45.90" height="2.0" fill="#fbe3e3"/>
<line x1="932.00" y1="1709.50" x2="932.00" y2="1859.60" stroke="#231f20" stroke-width="1.6" stroke-linecap="butt"/>
<line x1="918.50" y1="1709.50" x2="945.50" y2="1709.50" stroke="#231f20" stroke-width="1.6" stroke-linecap="butt"/>
<line x1="918.50" y1="1859.60" x2="945.50" y2="1859.60" stroke="#231f20" stroke-width="1.6" stroke-linecap="butt"/>
<line x1="1015.80" y1="1849.20" x2="1015.80" y2="1886.00" stroke="#231f20" stroke-width="1.6" stroke-linecap="butt"/>
<line x1="1002.30" y1="1849.20" x2="1029.30" y2="1849.20" stroke="#231f20" stroke-width="1.6" stroke-linecap="butt"/>
<line x1="1002.30" y1="1886.00" x2="1029.30" y2="1886.00" stroke="#231f20" stroke-width="1.6" stroke-linecap="butt"/>
<line x1="1099.60" y1="1808.60" x2="1099.60" y2="1871.80" stroke="#231f20" stroke-width="1.6" stroke-linecap="butt"/>
<line x1="1086.10" y1="1808.60" x2="1113.10" y2="1808.60" stroke="#231f20" stroke-width="1.6" stroke-linecap="butt"/>
<line x1="1086.10" y1="1871.80" x2="1113.10" y2="1871.80" stroke="#231f20" stroke-width="1.6" stroke-linecap="butt"/>
<line x1="1183.10" y1="1845.00" x2="1183.10" y2="1876.00" stroke="#231f20" stroke-width="1.6" stroke-linecap="butt"/>
<line x1="1169.60" y1="1845.00" x2="1196.60" y2="1845.00" stroke="#231f20" stroke-width="1.6" stroke-linecap="butt"/>
<line x1="1169.60" y1="1876.00" x2="1196.60" y2="1876.00" stroke="#231f20" stroke-width="1.6" stroke-linecap="butt"/>
<ellipse cx="932.00" cy="1674.80" rx="7.4" ry="5.9" fill="#fff" stroke="#231f20" stroke-width="3.8"/>
<ellipse cx="932.00" cy="1709.20" rx="7.4" ry="5.9" fill="#fff" stroke="#231f20" stroke-width="3.8"/>
<ellipse cx="932.00" cy="1745.40" rx="7.4" ry="5.9" fill="#fff" stroke="#231f20" stroke-width="3.8"/>
<ellipse cx="911.70" cy="1819.50" rx="7.4" ry="5.9" fill="#fff" stroke="#231f20" stroke-width="3.8"/>
<ellipse cx="952.60" cy="1818.00" rx="7.4" ry="5.9" fill="#fff" stroke="#231f20" stroke-width="3.8"/>
<ellipse cx="932.00" cy="1843.00" rx="7.4" ry="5.9" fill="#fff" stroke="#231f20" stroke-width="3.8"/>
<ellipse cx="932.00" cy="1878.30" rx="7.4" ry="5.9" fill="#fff" stroke="#231f20" stroke-width="3.8"/>
<ellipse cx="1015.80" cy="1832.00" rx="7.4" ry="5.9" fill="#fff" stroke="#231f20" stroke-width="3.8"/>
<ellipse cx="1015.80" cy="1843.00" rx="7.4" ry="5.9" fill="#fff" stroke="#231f20" stroke-width="3.8"/>
<ellipse cx="995.50" cy="1878.30" rx="7.4" ry="5.9" fill="#fff" stroke="#231f20" stroke-width="3.8"/>
<ellipse cx="1012.00" cy="1879.00" rx="7.4" ry="5.9" fill="#fff" stroke="#231f20" stroke-width="3.8"/>
<ellipse cx="1028.30" cy="1879.00" rx="7.4" ry="5.9" fill="#fff" stroke="#231f20" stroke-width="3.8"/>
<ellipse cx="1039.20" cy="1879.00" rx="7.4" ry="5.9" fill="#fff" stroke="#231f20" stroke-width="3.8"/>
<ellipse cx="1079.90" cy="1811.70" rx="7.4" ry="5.9" fill="#fff" stroke="#231f20" stroke-width="3.8"/>
<ellipse cx="1079.90" cy="1822.70" rx="7.4" ry="5.9" fill="#fff" stroke="#231f20" stroke-width="3.8"/>
<ellipse cx="1121.20" cy="1805.50" rx="7.4" ry="5.9" fill="#fff" stroke="#231f20" stroke-width="3.8"/>
<ellipse cx="1121.20" cy="1818.00" rx="7.4" ry="5.9" fill="#fff" stroke="#231f20" stroke-width="3.8"/>
<ellipse cx="1079.90" cy="1868.00" rx="7.4" ry="5.9" fill="#fff" stroke="#231f20" stroke-width="3.8"/>
<ellipse cx="1079.90" cy="1878.30" rx="7.4" ry="5.9" fill="#fff" stroke="#231f20" stroke-width="3.8"/>
<ellipse cx="1121.20" cy="1874.30" rx="7.4" ry="5.9" fill="#fff" stroke="#231f20" stroke-width="3.8"/>
<ellipse cx="1178.40" cy="1834.50" rx="7.4" ry="5.9" fill="#fff" stroke="#231f20" stroke-width="3.8"/>
<ellipse cx="1190.90" cy="1840.80" rx="7.4" ry="5.9" fill="#fff" stroke="#231f20" stroke-width="3.8"/>
<ellipse cx="1178.40" cy="1849.20" rx="7.4" ry="5.9" fill="#fff" stroke="#231f20" stroke-width="3.8"/>
<ellipse cx="1164.30" cy="1868.00" rx="7.4" ry="5.9" fill="#fff" stroke="#231f20" stroke-width="3.8"/>
<ellipse cx="1178.40" cy="1863.30" rx="7.4" ry="5.9" fill="#fff" stroke="#231f20" stroke-width="3.8"/>
<ellipse cx="1164.30" cy="1878.30" rx="7.4" ry="5.9" fill="#fff" stroke="#231f20" stroke-width="3.8"/>
<ellipse cx="1190.90" cy="1874.30" rx="7.4" ry="5.9" fill="#fff" stroke="#231f20" stroke-width="3.8"/>
<ellipse cx="1205.00" cy="1872.70" rx="7.4" ry="5.9" fill="#fff" stroke="#231f20" stroke-width="3.8"/>
<line x1="876.20" y1="1635.50" x2="876.20" y2="1941.10" stroke="#231f20" stroke-width="3.6" stroke-linecap="butt"/>
<line x1="860.80" y1="1637.30" x2="876.20" y2="1637.30" stroke="#231f20" stroke-width="3.6" stroke-linecap="butt"/>
<line x1="860.80" y1="1697.70" x2="876.20" y2="1697.70" stroke="#231f20" stroke-width="3.6" stroke-linecap="butt"/>
<line x1="860.80" y1="1758.10" x2="876.20" y2="1758.10" stroke="#231f20" stroke-width="3.6" stroke-linecap="butt"/>
<line x1="860.80" y1="1818.50" x2="876.20" y2="1818.50" stroke="#231f20" stroke-width="3.6" stroke-linecap="butt"/>
<line x1="860.80" y1="1878.90" x2="876.20" y2="1878.90" stroke="#231f20" stroke-width="3.6" stroke-linecap="butt"/>
<line x1="860.80" y1="1939.30" x2="876.20" y2="1939.30" stroke="#231f20" stroke-width="3.6" stroke-linecap="butt"/>
<line x1="860.80" y1="1939.30" x2="1232.00" y2="1939.30" stroke="#231f20" stroke-width="3.6" stroke-linecap="butt"/>
<line x1="931.40" y1="1939.30" x2="931.40" y2="1951.50" stroke="#231f20" stroke-width="3.6" stroke-linecap="butt"/>
<line x1="1015.80" y1="1939.30" x2="1015.80" y2="1951.50" stroke="#231f20" stroke-width="3.6" stroke-linecap="butt"/>
<line x1="1099.60" y1="1939.30" x2="1099.60" y2="1951.50" stroke="#231f20" stroke-width="3.6" stroke-linecap="butt"/>
<line x1="1183.10" y1="1939.30" x2="1183.10" y2="1951.50" stroke="#231f20" stroke-width="3.6" stroke-linecap="butt"/>
<polyline points="931.80,1643.00 931.80,1629.60 1099.90,1629.60 1099.90,1743.00" fill="none" stroke="#231f20" stroke-width="3.4" stroke-linejoin="round"/>
<polyline points="931.80,1667.90 931.80,1653.80 1019.40,1653.80 1019.40,1816.40" fill="none" stroke="#231f20" stroke-width="3.4" stroke-linejoin="round"/>
<text transform="translate(857.09,1645.52) scale(1.170,1.000)" font-size="23.9" font-weight="bold" text-anchor="end"  >5</text>
<text transform="translate(856.44,1705.92) scale(1.170,1.000)" font-size="23.9" font-weight="bold" text-anchor="end"  >4</text>
<text transform="translate(857.31,1766.32) scale(1.170,1.000)" font-size="23.9" font-weight="bold" text-anchor="end"  >3</text>
<text transform="translate(857.42,1826.72) scale(1.170,1.000)" font-size="23.9" font-weight="bold" text-anchor="end"  >2</text>
<text transform="translate(857.09,1887.12) scale(1.170,1.000)" font-size="23.9" font-weight="bold" text-anchor="end"  >1</text>
<text transform="translate(857.45,1947.52) scale(1.170,1.000)" font-size="23.9" font-weight="bold" text-anchor="end"  >0</text>
<text transform="translate(11.43,24.20)" font-size="30.8" font-weight="bold" text-anchor="start"  fill="#000">A</text>
<text transform="translate(390.69,24.50)" font-size="30.8" font-weight="bold" text-anchor="start"  fill="#000">B</text>
<text transform="translate(766.94,24.50)" font-size="30.8" font-weight="bold" text-anchor="start"  fill="#000">C</text>
<text transform="translate(1166.84,24.50)" font-size="30.8" font-weight="bold" text-anchor="start"  fill="#000">D</text>
<text transform="translate(12.09,568.50)" font-size="30.8" font-weight="bold" text-anchor="start"  fill="#000">E</text>
<text transform="translate(390.94,568.50)" font-size="30.8" font-weight="bold" text-anchor="start"  fill="#000">F</text>
<text transform="translate(766.94,568.50)" font-size="30.8" font-weight="bold" text-anchor="start"  fill="#000">G</text>
<text transform="translate(1167.54,568.50)" font-size="30.8" font-weight="bold" text-anchor="start"  fill="#000">H</text>
<text transform="translate(320.14,1079.60)" font-size="30.8" font-weight="bold" text-anchor="start"  fill="#000">I</text>
<text transform="translate(767.14,1080.40)" font-size="30.8" font-weight="bold" text-anchor="start"  fill="#000">J</text>
<text transform="translate(320.24,1578.50)" font-size="30.8" font-weight="bold" text-anchor="start"  fill="#000">K</text>
<text transform="translate(766.74,1578.50)" font-size="30.8" font-weight="bold" text-anchor="start"  fill="#000">L</text>
<text transform="translate(237.78,25.40)" font-size="28.3" font-weight="bold" text-anchor="middle"  >Neutrophils</text>
<text transform="translate(614.22,25.40)" font-size="28.7" font-weight="bold" text-anchor="middle"  >Neutrophils</text>
<text transform="translate(1007.35,25.30) scale(1.000,1.020)" font-size="27.8" font-weight="bold" text-anchor="middle"  >Neutrophil F4/80</text>
<text transform="translate(236.57,546.90) scale(1.000,1.020)" font-size="28.2" font-weight="bold" text-anchor="middle"  >Microglia</text>
<text transform="translate(618.66,547.00) scale(1.000,1.020)" font-size="28.3" font-weight="bold" text-anchor="middle"  >Microglia</text>
<text transform="translate(1020.85,547.00) scale(1.000,1.020)" font-size="27.8" font-weight="bold" text-anchor="middle"  >Microglia F4/80</text>
<text transform="translate(584.51,1076.40) scale(1.000,1.020)" font-size="28.4" font-weight="bold" text-anchor="middle"  >Microglia</text>
<text transform="translate(1306.41,25.40) scale(1.000,1.020)" font-size="28.2" font-weight="bold" text-anchor="start"  >Neutrophil CD11c</text>
<text transform="translate(1322.61,547.30) scale(1.000,1.030)" font-size="28.2" font-weight="bold" text-anchor="start"  >Microglia CD11c</text>
<text transform="translate(1034.56,1087.30) scale(1.200,1.000)" font-size="28.5" font-weight="bold" text-anchor="middle"  >Ly6C+ Monocytes</text>
<text transform="translate(559.96,1605.40) scale(1.200,1.000)" font-size="28.5" font-weight="bold" text-anchor="middle"  >Ly6C+ Monocytes</text>
<text transform="translate(1038.49,1605.40) scale(1.200,1.000)" font-size="28.5" font-weight="bold" text-anchor="middle"  >Ly6C+ CD11c</text>
<text transform="translate(164.79,478.50) scale(1.000,1.053)" font-size="28.3" font-weight="bold" text-anchor="middle"  >SD</text>
<text transform="translate(266.75,478.50) scale(1.000,1.053)" font-size="28.3" font-weight="bold" text-anchor="middle"  >HFD</text>
<text transform="translate(540.34,480.30) scale(1.000,1.015)" font-size="29.1" font-weight="bold" text-anchor="middle"  >SD</text>
<text transform="translate(645.54,480.30) scale(1.000,1.015)" font-size="29.1" font-weight="bold" text-anchor="middle"  >HFD</text>
<text transform="translate(927.54,480.50) scale(1.000,1.024)" font-size="29.1" font-weight="bold" text-anchor="middle"  >SD</text>
<text transform="translate(1032.44,480.50) scale(1.000,1.024)" font-size="29.1" font-weight="bold" text-anchor="middle"  >HFD</text>
<text transform="translate(1339.34,481.40) scale(1.000,1.030)" font-size="29.05" font-weight="bold" text-anchor="middle"  >SD</text>
<text transform="translate(1444.39,481.40) scale(1.000,1.030)" font-size="29.05" font-weight="bold" text-anchor="middle"  >HFD</text>
<text transform="translate(167.34,1014.10) scale(1.000,1.030)" font-size="29.05" font-weight="bold" text-anchor="middle"  >SD</text>
<text transform="translate(272.39,1014.10) scale(1.000,1.030)" font-size="29.05" font-weight="bold" text-anchor="middle"  >HFD</text>
<text transform="translate(549.34,1009.10) scale(1.000,1.030)" font-size="29.05" font-weight="bold" text-anchor="middle"  >SD</text>
<text transform="translate(654.39,1009.10) scale(1.000,1.030)" font-size="29.05" font-weight="bold" text-anchor="middle"  >HFD</text>
<text transform="translate(942.64,1007.90) scale(1.000,1.030)" font-size="29.05" font-weight="bold" text-anchor="middle"  >SD</text>
<text transform="translate(1047.49,1007.90) scale(1.000,1.030)" font-size="29.05" font-weight="bold" text-anchor="middle"  >HFD</text>
<text transform="translate(1349.64,1006.70) scale(1.000,1.030)" font-size="29.05" font-weight="bold" text-anchor="middle"  >SD</text>
<text transform="translate(1458.89,1006.70) scale(1.000,1.030)" font-size="29.05" font-weight="bold" text-anchor="middle"  >HFD</text>
<text transform="translate(515.64,1553.70) scale(1.000,1.030)" font-size="29.05" font-weight="bold" text-anchor="middle"  >SD</text>
<text transform="translate(624.89,1553.70) scale(1.000,1.030)" font-size="29.05" font-weight="bold" text-anchor="middle"  >HFD</text>
<text transform="translate(215.97,60.42) scale(1.030,1.000)" font-size="39" font-weight="bold" text-anchor="middle"  >**</text>
<text transform="translate(595.72,78.32) scale(1.030,1.000)" font-size="39" font-weight="bold" text-anchor="middle"  >**</text>
<text transform="translate(484.87,1662.65) scale(1.200,1.000)" font-size="37.5" font-weight="bold" text-anchor="middle"  >****</text>
<text transform="translate(650.66,1649.56) scale(1.200,1.000)" font-size="35" font-weight="bold" text-anchor="middle"  >*</text>
<text transform="translate(1012.06,1632.58) scale(1.300,1.000)" font-size="34.1" font-weight="bold" text-anchor="middle"  >**</text>
<text transform="translate(979.97,1660.28) scale(1.310,1.000)" font-size="34.1" font-weight="bold" text-anchor="middle"  >***</text>
<text transform="translate(19.30,227.67) scale(0.970,1.000) rotate(-90)" font-size="27.6" font-weight="bold" text-anchor="middle"  >Cells (10^4)</text>
<text transform="translate(415.10,219.53) scale(0.990,1.000) rotate(-90)" font-size="27.8" font-weight="bold" text-anchor="middle"  >% of Leukocytes</text>
<text transform="translate(775.60,214.07) scale(0.990,1.000) rotate(-90)" font-size="27.9" font-weight="bold" text-anchor="middle"  >Median Fluorescent</text>
<text transform="translate(801.80,222.72) scale(0.970,1.000) rotate(-90)" font-size="27.75" font-weight="bold" text-anchor="middle"  >(fold) Intensity</text>
<text transform="translate(1162.70,216.53) scale(0.990,1.000) rotate(-90)" font-size="28.2" font-weight="bold" text-anchor="middle"  >Median Fluorescent</text>
<text transform="translate(1189.20,224.68) scale(0.980,1.000) rotate(-90)" font-size="28.1" font-weight="bold" text-anchor="middle"  >(fold) Intensity</text>
<text transform="translate(24.80,761.67) scale(0.970,1.000) rotate(-90)" font-size="27.5" font-weight="bold" text-anchor="middle"  >Cells (10^4)</text>
<text transform="translate(382.10,748.77) scale(0.985,1.000) rotate(-90)" font-size="27.9" font-weight="bold" text-anchor="middle"  >% of Leukocytes</text>
<text transform="translate(790.80,743.28) scale(0.980,1.000) rotate(-90)" font-size="28.25" font-weight="bold" text-anchor="middle"  >Median Fluorescent</text>
<text transform="translate(817.40,751.43) scale(0.980,1.000) rotate(-90)" font-size="28.1" font-weight="bold" text-anchor="middle"  >(fold) Intensity</text>
<text transform="translate(1173.20,742.53) scale(0.980,1.000) rotate(-90)" font-size="28.25" font-weight="bold" text-anchor="middle"  >Median Fluorescent</text>
<text transform="translate(1199.70,750.68) scale(0.980,1.000) rotate(-90)" font-size="28.1" font-weight="bold" text-anchor="middle"  >(fold) Intensity</text>
<text transform="translate(324.90,1290.24) scale(0.967,1.000) rotate(-90)" font-size="28.4" font-weight="bold" text-anchor="middle"  >Forward Side Scatter</text>
<text transform="translate(785.40,1248.48) scale(1.150,1.000) rotate(-90)" font-size="25.1" font-weight="bold" text-anchor="middle"  >Cells/mL (10^6)</text>
<text transform="translate(308.80,1758.80) scale(1.166,1.000) rotate(-90)" font-size="25.3" font-weight="bold" text-anchor="middle"  >% of Leukocytes</text>
<text transform="translate(798.50,1790.77) scale(1.080,1.000) rotate(-90)" font-size="28.0" font-weight="bold" text-anchor="middle"  >Median Fluorescent</text>
<text transform="translate(827.40,1800.13) scale(1.060,1.000) rotate(-90)" font-size="28.1" font-weight="bold" text-anchor="middle"  >(fold) Intensity</text>
<text transform="translate(923.60,1463.00) scale(1.240,1.000) rotate(-45)" font-size="22.3" font-weight="bold" text-anchor="end"  >SD Saline</text>
<text transform="translate(1007.40,1463.00) scale(1.240,1.000) rotate(-45)" font-size="22.3" font-weight="bold" text-anchor="end"  >SD LPS</text>
<text transform="translate(1091.40,1463.00) scale(1.240,1.000) rotate(-45)" font-size="22.3" font-weight="bold" text-anchor="end"  >HFD Saline</text>
<text transform="translate(1175.80,1463.00) scale(1.240,1.000) rotate(-45)" font-size="22.3" font-weight="bold" text-anchor="end"  >HFD LPS</text>
<text transform="translate(448.70,1976.00) scale(1.240,1.000) rotate(-45)" font-size="22.3" font-weight="bold" text-anchor="end"  >SD Saline</text>
<text transform="translate(532.50,1976.00) scale(1.240,1.000) rotate(-45)" font-size="22.3" font-weight="bold" text-anchor="end"  >SD LPS</text>
<text transform="translate(615.90,1976.00) scale(1.240,1.000) rotate(-45)" font-size="22.3" font-weight="bold" text-anchor="end"  >HFD Saline</text>
<text transform="translate(700.40,1976.00) scale(1.240,1.000) rotate(-45)" font-size="22.3" font-weight="bold" text-anchor="end"  >HFD LPS</text>
<text transform="translate(941.20,1972.30) scale(1.240,1.000) rotate(-45)" font-size="22.3" font-weight="bold" text-anchor="end"  >SD Saline</text>
<text transform="translate(1025.60,1972.30) scale(1.240,1.000) rotate(-45)" font-size="22.3" font-weight="bold" text-anchor="end"  >SD LPS</text>
<text transform="translate(1109.40,1972.30) scale(1.240,1.000) rotate(-45)" font-size="22.3" font-weight="bold" text-anchor="end"  >HFD Saline</text>
<text transform="translate(1192.90,1972.30) scale(1.240,1.000) rotate(-45)" font-size="22.3" font-weight="bold" text-anchor="end"  >HFD LPS</text>
<text x="165.73" y="578.00" font-size="25.4" font-weight="normal" font-style="italic">p</text>
<text x="182.06" y="578.00" font-size="25.4" font-weight="normal">=0.0686</text>
<text x="515.74" y="1115.90" font-size="25.4" font-weight="normal" font-style="italic">p</text>
<text x="531.86" y="1115.90" font-size="25.4" font-weight="normal">=0.0658</text>
</g></svg>
</body></html>
